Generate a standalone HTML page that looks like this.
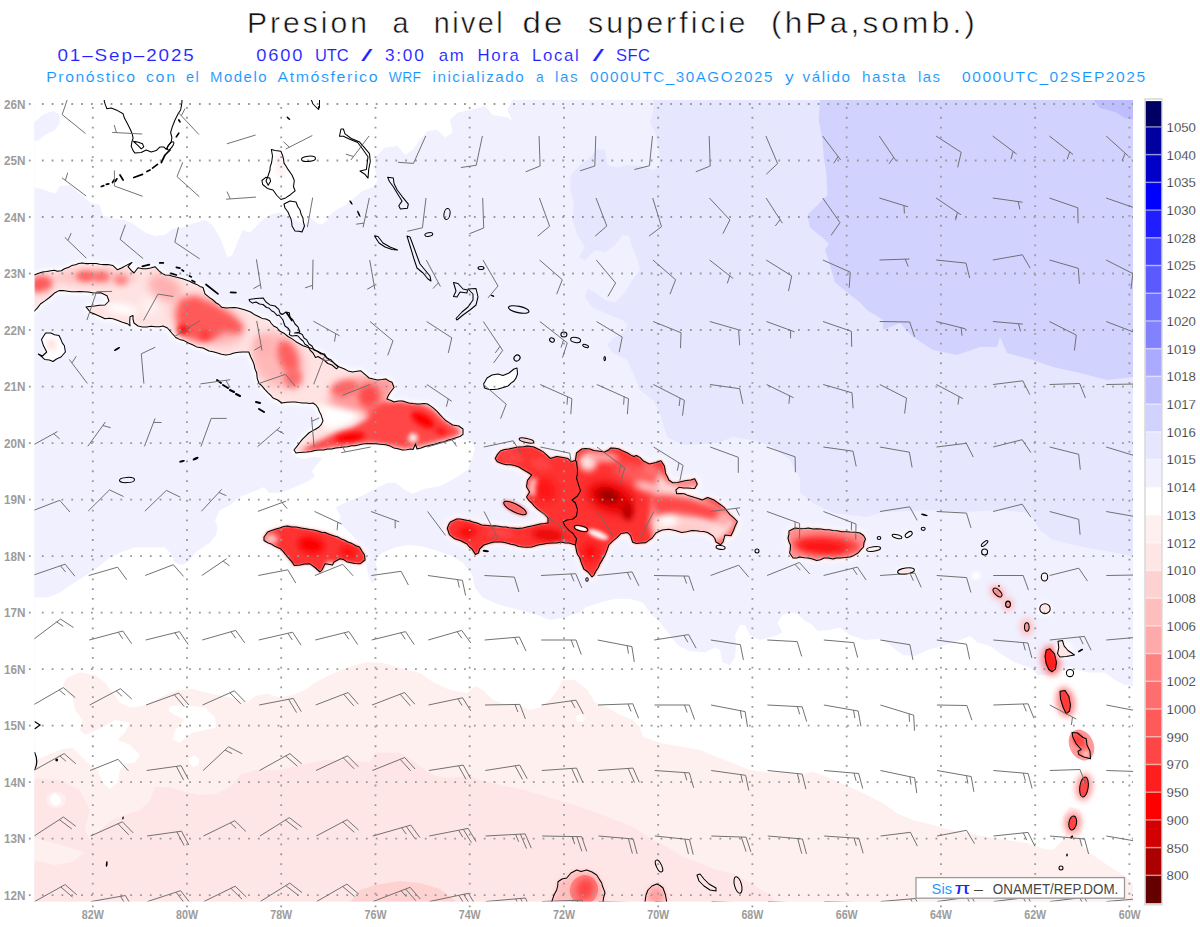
<!DOCTYPE html>
<html><head><meta charset="utf-8"><title>Presion a nivel de superficie</title>
<style>html,body{margin:0;padding:0;background:#fff;}body{width:1200px;height:927px;overflow:hidden;font-family:"Liberation Sans",sans-serif;}svg{display:block}text{font-family:"Liberation Sans",sans-serif;}</style></head><body>
<svg width="1200" height="927" viewBox="0 0 1200 927">
<defs>
<clipPath id="mapclip"><rect x="34.4" y="100.0" width="1098.6" height="801.4"/></clipPath>
<filter id="b0_6" x="-50%" y="-50%" width="200%" height="200%"><feGaussianBlur stdDeviation="0.6"/></filter>
<filter id="b1" x="-50%" y="-50%" width="200%" height="200%"><feGaussianBlur stdDeviation="1"/></filter>
<filter id="b1_5" x="-50%" y="-50%" width="200%" height="200%"><feGaussianBlur stdDeviation="1.5"/></filter>
<filter id="b2" x="-50%" y="-50%" width="200%" height="200%"><feGaussianBlur stdDeviation="2"/></filter>
<filter id="b2_5" x="-50%" y="-50%" width="200%" height="200%"><feGaussianBlur stdDeviation="2.5"/></filter>
<filter id="b3" x="-50%" y="-50%" width="200%" height="200%"><feGaussianBlur stdDeviation="3"/></filter>
<filter id="b4" x="-50%" y="-50%" width="200%" height="200%"><feGaussianBlur stdDeviation="4"/></filter>
<filter id="b5" x="-50%" y="-50%" width="200%" height="200%"><feGaussianBlur stdDeviation="5"/></filter>
<filter id="b6" x="-50%" y="-50%" width="200%" height="200%"><feGaussianBlur stdDeviation="6"/></filter>
</defs>
<rect x="0" y="0" width="1200" height="927" fill="#fff"/>
<g clip-path="url(#mapclip)">
<rect x="33.4" y="99.0" width="1100.6" height="803.4" fill="#f0f0ff"/>
<g filter="url(#b0_6)">
<polygon points="34.0,99.0 34.0,187.5 45.0,190.0 55.0,193.8 60.0,186.0 70.0,185.0 80.0,193.8 90.0,202.5 100.0,205.0 102.5,215.0 112.5,218.8 125.0,220.0 135.0,225.0 145.0,232.5 155.0,236.0 165.0,235.0 172.5,228.8 182.5,227.5 192.5,223.8 205.0,220.0 212.5,225.0 220.0,237.5 227.5,257.5 232.5,255.0 237.5,242.5 242.5,230.0 250.0,232.5 257.5,225.0 262.5,220.0 270.0,215.0 280.0,212.5 290.0,217.5 300.0,222.0 305.0,225.0 310.0,217.5 320.0,225.0 325.0,222.5 332.5,212.5 345.0,205.0 355.0,197.5 362.5,191.0 372.5,187.5 377.5,181.0 375.0,170.0 375.0,157.5 385.0,147.5 397.5,146.0 405.0,155.0 412.5,150.0 420.0,140.0 427.5,131.0 437.5,130.0 445.0,137.5 452.5,132.5 450.0,120.0 457.5,112.5 470.0,110.0 485.0,106.0 492.5,115.0 507.5,117.5 512.5,121.0 507.5,110.0 512.5,99.0" fill="#fff"/>
<polygon points="34.0,122.5 42.5,115.0 52.5,111.0 58.8,113.8 60.0,122.5 55.0,130.0 45.0,135.0 37.5,141.0 34.0,140.0" fill="#f0f0ff"/>
<polygon points="653.8,99.0 652.5,115.0 650.0,122.5 656.0,135.0 658.8,152.5 660.0,167.5 652.5,170.0 642.5,166.0 627.5,165.0 617.5,167.5 607.5,165.0 605.0,150.0 597.5,148.8 590.0,157.5 580.0,165.0 571.0,175.0 570.0,187.5 573.8,202.5 572.5,220.0 577.5,235.0 585.0,247.5 578.8,257.5 585.0,260.0 595.0,250.0 605.0,252.5 615.0,245.0 622.5,235.0 628.8,236.0 632.5,247.5 637.5,260.0 640.0,270.0 632.5,280.0 625.0,292.5 615.0,302.5 605.0,300.0 595.0,292.5 587.5,288.8 585.0,297.5 592.5,307.5 610.0,315.0 622.5,320.0 627.5,325.0 623.0,333.0 613.0,338.0 607.0,345.0 613.0,353.0 627.0,360.0 633.0,373.0 640.0,390.0 653.0,400.0 660.0,413.0 667.0,437.0 683.0,445.0 717.0,443.0 733.0,437.0 753.0,440.0 773.0,447.0 790.0,460.0 800.0,478.0 800.0,492.0 813.0,503.0 833.0,513.0 867.0,517.0 883.0,512.0 933.0,510.0 967.0,512.0 1000.0,510.0 1030.0,513.0 1040.0,530.0 1053.0,540.0 1083.0,547.0 1117.0,553.0 1134.0,557.0 1134.0,99.0" fill="#e6e6ff"/>
<polygon points="820.0,99.0 818.8,120.0 822.5,140.0 823.8,157.5 826.2,172.5 827.5,195.0 820.0,202.5 807.5,215.0 810.0,227.5 822.5,237.5 828.8,243.8 825.0,250.0 830.0,265.0 835.0,282.5 847.5,292.5 860.0,302.5 867.0,310.0 883.0,320.0 883.0,330.0 900.0,323.0 913.0,337.0 933.0,350.0 957.0,355.0 980.0,347.0 997.0,347.0 1000.0,337.0 1007.0,353.0 1033.0,360.0 1053.0,367.0 1080.0,373.0 1107.0,380.0 1134.0,377.0 1134.0,99.0" fill="#d2d2ff"/>
<polygon points="1093.0,99.0 1100.0,108.0 1115.0,112.0 1125.0,118.0 1134.0,120.0 1134.0,99.0" fill="#bebeff"/>
<polygon points="34.0,597.5 47.5,597.5 60.0,592.5 72.5,583.8 85.0,576.0 97.5,567.5 110.0,557.5 120.0,552.5 135.0,547.5 150.0,547.5 165.0,547.5 170.0,552.5 175.0,562.5 182.5,565.0 190.0,560.0 195.0,552.5 202.5,547.5 210.0,542.5 216.0,535.0 217.5,527.5 215.0,520.0 220.0,510.0 230.0,505.0 240.0,497.0 250.7,492.7 264.0,487.0 269.0,492.7 280.0,492.7 290.7,488.7 300.0,484.7 309.0,480.7 314.7,476.7 312.0,471.0 317.0,464.7 322.7,458.0 314.7,456.7 304.0,459.0 296.0,456.7 292.0,452.0 300.0,440.0 340.0,436.0 400.0,440.0 440.0,438.0 470.0,440.0 475.0,447.5 472.5,457.5 467.5,470.0 460.0,475.0 450.0,481.0 440.0,486.0 425.0,488.8 412.5,493.8 405.0,490.0 395.0,482.5 386.7,483.0 373.0,490.0 360.0,496.7 346.7,502.0 336.0,507.3 338.7,512.7 341.0,516.7 338.7,520.7 345.0,528.0 352.0,535.0 360.0,545.0 365.0,557.0 366.0,565.0 369.0,577.0 372.5,584.0 377.0,576.0 377.5,570.0 375.0,560.0 382.5,552.5 395.0,547.5 407.5,545.0 420.0,546.0 435.0,550.0 450.0,555.0 462.5,562.5 472.5,575.0 475.0,587.5 482.5,597.5 500.0,605.0 520.0,610.0 537.5,615.0 550.0,620.0 565.0,617.5 580.0,612.5 585.0,607.5 600.0,602.5 615.0,598.8 630.0,598.8 642.5,602.5 650.0,612.5 660.0,622.5 670.0,635.0 677.5,645.0 690.0,651.0 705.0,652.5 715.0,647.5 720.0,650.0 722.5,662.5 730.0,665.0 735.0,657.5 736.0,645.0 735.0,635.0 740.0,625.0 745.0,625.0 750.0,635.0 760.0,640.0 775.0,636.0 782.5,632.5 777.5,622.5 782.5,615.0 790.0,612.5 797.5,613.8 803.8,620.0 812.5,625.0 817.5,631.0 830.0,630.0 840.0,627.5 850.0,635.0 865.0,640.0 880.0,638.8 890.0,645.0 902.5,655.0 915.0,656.0 927.5,650.0 945.0,645.0 960.0,640.0 970.0,636.0 977.5,642.5 990.0,646.0 1002.5,655.0 1015.0,662.5 1030.0,667.5 1037.5,675.0 1050.0,675.0 1065.0,670.0 1077.5,670.0 1090.0,672.5 1105.0,672.5 1115.0,680.0 1125.0,685.0 1134.0,686.0 1134.0,903.0 34.0,903.0" fill="#fff"/>
<polygon points="34.0,761.0 45.0,756.0 60.0,750.0 72.5,747.5 82.5,757.5 90.0,765.0 97.5,770.0 102.5,782.5 110.0,788.8 117.5,782.5 120.0,770.0 125.0,763.8 135.0,762.5 140.0,755.0 130.0,745.0 117.5,740.0 125.0,732.5 130.0,722.5 115.0,720.0 102.5,727.5 85.0,735.0 80.0,730.0 82.5,720.0 75.0,710.0 72.5,697.5 62.5,685.0 67.5,677.5 80.0,672.5 95.0,675.0 105.0,682.5 112.5,692.5 120.0,702.5 130.0,707.5 142.5,706.0 155.0,700.0 170.0,692.5 180.0,690.0 192.5,688.8 205.0,692.5 217.5,695.0 230.0,697.5 247.5,702.5 255.0,696.0 267.5,693.8 280.0,697.5 292.5,695.0 305.0,690.0 315.0,682.5 330.0,675.0 342.5,669.0 367.0,662.0 383.0,663.0 400.0,668.0 420.0,673.0 433.0,682.0 450.0,690.0 467.0,693.0 475.0,686.0 483.0,690.0 493.0,700.0 507.5,705.0 520.0,705.0 530.0,710.0 540.0,707.5 550.0,700.0 557.5,690.0 562.5,680.0 575.0,680.0 587.5,690.0 595.0,702.5 607.5,707.5 620.0,715.0 633.0,720.0 640.0,727.0 643.0,737.0 660.0,743.0 683.0,747.0 700.0,750.0 717.0,757.0 733.0,763.0 750.0,770.0 767.0,772.0 783.0,773.0 800.0,775.0 813.0,771.7 826.7,776.7 840.0,783.0 856.7,790.0 870.0,796.7 883.0,803.0 896.7,813.0 913.0,820.0 933.0,825.0 950.0,830.0 966.7,833.0 986.7,836.7 1006.7,840.0 1026.7,843.0 1040.0,848.0 1053.0,850.0 1063.0,840.0 1066.7,830.0 1063.0,816.7 1070.0,806.7 1080.0,810.0 1083.0,823.0 1080.0,836.7 1083.0,846.7 1090.0,853.0 1100.0,860.0 1110.0,866.7 1120.0,873.0 1130.0,880.0 1134.0,886.7 1134.0,903.0 34.0,903.0" fill="#fff0f0"/>
<polygon points="34.0,778.0 60.0,780.0 80.0,790.0 90.0,810.0 85.0,830.0 90.0,840.0 100.0,830.0 112.0,820.0 125.0,815.0 140.0,810.0 150.0,800.0 155.0,787.0 170.0,787.0 185.0,792.0 200.0,795.0 215.0,794.0 230.0,787.0 240.0,775.0 255.0,770.0 280.0,770.0 305.0,764.0 325.0,760.0 350.0,760.0 370.0,762.5 375.0,752.5 400.0,752.5 412.5,760.0 425.0,770.0 435.0,776.0 450.0,777.5 470.0,776.0 480.0,780.0 500.0,785.0 525.0,790.0 550.0,797.5 575.0,805.0 600.0,814.0 633.0,826.7 653.0,840.0 667.0,846.7 683.0,856.7 700.0,863.0 717.0,870.0 733.0,873.0 750.0,883.0 767.0,893.0 777.0,902.0 34.0,903.0" fill="#ffe6e6"/>
<polygon points="34.0,838.0 60.0,845.0 85.0,852.0 72.0,862.0 55.0,865.0 34.0,860.0" fill="#fff0f0"/>
<ellipse cx="56" cy="800" rx="10" ry="8" fill="#fff0f0"/>
<polygon points="170.0,706.0 185.0,705.0 205.0,707.5 215.0,717.5 216.0,727.5 205.0,730.0 192.5,732.5 180.0,742.5 172.5,740.0 175.0,730.0 185.0,720.0 175.0,715.0 168.8,711.0" fill="#fff"/>
<polygon points="50.0,797.0 55.0,793.0 60.0,797.0 61.0,803.0 56.0,806.0 51.0,803.0" fill="#fff"/>
<polygon points="189.0,758.0 194.0,755.0 199.0,759.0 199.0,764.0 194.0,767.0 189.0,764.0" fill="#fff"/>
<polygon points="576.0,716.0 581.0,714.0 585.0,718.0 583.0,722.0 577.0,721.0" fill="#fff"/>
<polygon points="350.0,902.0 360.0,890.0 375.0,885.0 400.0,881.0 420.0,883.0 440.0,889.0 457.0,902.0" fill="#ffd2d2"/>
</g>
<defs><clipPath id="cp_cuba"><polygon points="34.0,275.0 42.5,271.9 50.8,270.8 61.3,270.8 71.7,265.6 82.0,263.0 92.5,263.5 103.0,264.6 113.0,265.6 117.5,269.8 125.8,265.6 132.0,262.5 128.0,266.7 134.0,273.0 138.0,267.7 146.7,268.8 155.0,266.7 159.0,270.8 165.4,275.0 175.8,277.0 186.0,280.0 196.7,284.4 203.0,287.5 205.0,293.8 213.0,300.0 221.7,307.3 238.0,308.0 246.7,310.4 259.0,316.7 269.6,320.8 271.0,323.0 279.6,331.0 288.0,336.5 296.0,341.7 306.7,347.0 317.0,351.0 323.0,354.0 329.6,360.4 335.8,364.6 344.0,368.8 352.5,371.9 360.8,370.8 369.0,378.0 377.5,380.0 385.8,379.0 392.0,382.3 394.0,387.5 390.0,392.7 386.9,399.0 394.0,402.0 402.5,401.0 408.8,403.0 417.0,404.0 427.5,404.0 433.8,408.3 440.0,414.6 446.0,420.8 452.5,425.0 458.8,426.0 463.0,429.0 463.0,434.4 456.7,437.5 444.0,441.7 431.7,444.8 421.0,448.0 417.0,449.0 415.5,444.0 413.0,449.5 410.8,449.0 402.5,450.0 394.0,448.0 385.8,444.8 375.4,443.8 365.0,443.8 354.6,445.8 344.0,446.9 331.7,449.0 319.0,450.0 306.7,452.0 296.0,453.0 294.0,450.0 300.4,441.7 308.8,433.0 319.0,427.0 323.0,420.8 321.0,414.6 318.0,408.0 313.0,403.0 302.5,403.0 292.0,402.0 281.7,403.0 273.0,398.0 265.0,389.6 258.8,383.0 256.7,373.0 252.5,360.4 248.8,352.0 242.5,352.0 234.0,353.0 225.8,355.0 217.5,353.0 209.0,351.0 203.0,348.0 196.7,346.9 192.5,344.8 184.0,340.6 175.8,337.5 171.7,333.0 167.5,328.0 163.0,326.0 155.0,326.7 146.7,327.0 138.0,326.0 134.0,323.0 133.0,315.6 130.0,316.7 130.0,326.0 128.0,324.0 121.7,321.9 113.0,318.8 105.0,318.8 100.8,316.7 90.4,312.5 86.0,307.0 94.6,306.0 105.0,305.0 109.0,301.0 107.0,295.8 100.8,292.7 92.5,292.7 84.0,291.7 71.7,291.7 59.0,290.6 55.0,292.7 48.8,298.0 40.4,304.0 34.0,311.5"/></clipPath><clipPath id="cp_hisp"><polygon points="495.2,458.5 500.4,451.0 508.8,449.0 519.0,447.0 527.5,446.0 533.8,447.0 540.0,450.0 546.0,454.4 550.4,458.5 556.7,456.5 563.0,457.5 568.0,458.5 571.0,461.7 575.4,460.6 576.5,453.0 581.7,449.0 590.0,449.0 598.0,451.0 604.6,452.0 610.8,448.0 619.0,449.0 627.5,453.0 633.8,456.5 636.5,455.5 643.0,460.7 649.4,464.0 655.9,462.6 661.0,460.7 664.3,465.9 665.6,473.6 668.8,480.0 672.7,482.7 681.7,481.4 690.8,480.0 694.7,478.8 697.3,484.0 694.7,488.5 686.9,487.9 679.2,487.2 675.9,489.8 676.6,493.7 684.3,493.7 688.2,495.6 694.7,497.6 702.4,500.0 707.6,497.6 714.0,500.0 720.6,504.7 727.0,511.0 733.5,517.6 737.4,521.5 733.5,530.5 731.0,535.7 725.0,535.0 723.0,542.0 720.5,544.8 716.0,542.0 712.8,535.7 707.6,532.5 699.9,531.2 692.0,530.6 681.7,532.5 675.3,530.6 668.8,529.3 662.3,530.0 655.9,533.0 652.0,538.3 645.5,542.8 636.5,543.5 632.6,542.2 630.6,535.6 627.5,532.5 621.0,533.5 617.0,537.7 613.0,540.8 608.8,545.0 606.7,551.0 602.5,559.6 598.0,568.0 594.0,575.0 592.0,577.0 588.0,572.0 583.8,569.0 581.7,563.8 579.6,557.5 576.5,551.0 575.4,545.0 569.0,543.0 560.8,541.9 552.5,543.0 544.0,544.0 538.0,545.0 531.7,547.0 523.0,547.0 515.0,545.0 506.7,543.0 498.0,541.9 490.0,543.0 483.8,545.0 479.6,549.0 478.5,553.0 475.4,554.4 472.0,549.0 467.0,544.0 460.8,540.8 454.6,538.8 449.4,534.6 447.3,528.3 450.4,522.0 456.7,519.0 465.0,520.0 473.0,522.0 481.7,525.0 492.0,526.0 502.5,527.0 513.0,528.0 523.0,528.0 531.7,526.0 540.0,524.0 548.0,523.0 548.0,518.0 544.0,513.8 538.0,509.6 531.7,503.0 526.5,497.0 529.6,492.0 526.5,486.7 527.5,480.4 531.7,475.0 525.4,471.0 519.0,467.0 510.8,464.8 502.5,463.8 497.3,461.7"/></clipPath><clipPath id="cp_jam"><polygon points="264.0,537.0 267.6,532.0 276.0,529.0 287.5,526.0 301.0,528.0 317.7,531.0 325.0,532.5 334.4,536.0 347.8,542.0 359.5,547.0 364.5,555.0 365.0,560.0 360.0,563.8 350.0,562.5 340.0,558.8 334.0,562.0 332.5,565.0 327.0,564.0 325.0,563.8 322.0,570.0 320.0,572.0 315.0,567.5 310.0,563.8 300.0,565.0 294.3,565.6 287.6,557.0 281.0,549.0 271.0,543.9 264.0,540.5"/></clipPath><clipPath id="cp_pr"><polygon points="789.0,531.0 795.0,528.0 805.0,528.5 816.7,528.8 833.0,530.5 850.0,532.0 860.0,533.0 863.5,535.5 865.5,539.0 863.5,547.0 858.0,553.0 850.0,557.0 840.0,558.0 833.0,559.0 824.0,558.0 816.7,560.6 808.0,558.0 800.0,557.0 793.0,558.0 789.6,553.0 790.5,545.0 788.0,538.0"/></clipPath></defs>
<polygon points="34.0,275.0 42.5,271.9 50.8,270.8 61.3,270.8 71.7,265.6 82.0,263.0 92.5,263.5 103.0,264.6 113.0,265.6 117.5,269.8 125.8,265.6 132.0,262.5 128.0,266.7 134.0,273.0 138.0,267.7 146.7,268.8 155.0,266.7 159.0,270.8 165.4,275.0 175.8,277.0 186.0,280.0 196.7,284.4 203.0,287.5 205.0,293.8 213.0,300.0 221.7,307.3 238.0,308.0 246.7,310.4 259.0,316.7 269.6,320.8 271.0,323.0 279.6,331.0 288.0,336.5 296.0,341.7 306.7,347.0 317.0,351.0 323.0,354.0 329.6,360.4 335.8,364.6 344.0,368.8 352.5,371.9 360.8,370.8 369.0,378.0 377.5,380.0 385.8,379.0 392.0,382.3 394.0,387.5 390.0,392.7 386.9,399.0 394.0,402.0 402.5,401.0 408.8,403.0 417.0,404.0 427.5,404.0 433.8,408.3 440.0,414.6 446.0,420.8 452.5,425.0 458.8,426.0 463.0,429.0 463.0,434.4 456.7,437.5 444.0,441.7 431.7,444.8 421.0,448.0 417.0,449.0 415.5,444.0 413.0,449.5 410.8,449.0 402.5,450.0 394.0,448.0 385.8,444.8 375.4,443.8 365.0,443.8 354.6,445.8 344.0,446.9 331.7,449.0 319.0,450.0 306.7,452.0 296.0,453.0 294.0,450.0 300.4,441.7 308.8,433.0 319.0,427.0 323.0,420.8 321.0,414.6 318.0,408.0 313.0,403.0 302.5,403.0 292.0,402.0 281.7,403.0 273.0,398.0 265.0,389.6 258.8,383.0 256.7,373.0 252.5,360.4 248.8,352.0 242.5,352.0 234.0,353.0 225.8,355.0 217.5,353.0 209.0,351.0 203.0,348.0 196.7,346.9 192.5,344.8 184.0,340.6 175.8,337.5 171.7,333.0 167.5,328.0 163.0,326.0 155.0,326.7 146.7,327.0 138.0,326.0 134.0,323.0 133.0,315.6 130.0,316.7 130.0,326.0 128.0,324.0 121.7,321.9 113.0,318.8 105.0,318.8 100.8,316.7 90.4,312.5 86.0,307.0 94.6,306.0 105.0,305.0 109.0,301.0 107.0,295.8 100.8,292.7 92.5,292.7 84.0,291.7 71.7,291.7 59.0,290.6 55.0,292.7 48.8,298.0 40.4,304.0 34.0,311.5" fill="#fff" stroke="#fff" stroke-width="5" stroke-linejoin="round" filter="url(#b2_5)"/>
<g filter="url(#b1)"><g clip-path="url(#cp_cuba)">
<polygon points="34.0,275.0 42.5,271.9 50.8,270.8 61.3,270.8 71.7,265.6 82.0,263.0 92.5,263.5 103.0,264.6 113.0,265.6 117.5,269.8 125.8,265.6 132.0,262.5 128.0,266.7 134.0,273.0 138.0,267.7 146.7,268.8 155.0,266.7 159.0,270.8 165.4,275.0 175.8,277.0 186.0,280.0 196.7,284.4 203.0,287.5 205.0,293.8 213.0,300.0 221.7,307.3 238.0,308.0 246.7,310.4 259.0,316.7 269.6,320.8 271.0,323.0 279.6,331.0 288.0,336.5 296.0,341.7 306.7,347.0 317.0,351.0 323.0,354.0 329.6,360.4 335.8,364.6 344.0,368.8 352.5,371.9 360.8,370.8 369.0,378.0 377.5,380.0 385.8,379.0 392.0,382.3 394.0,387.5 390.0,392.7 386.9,399.0 394.0,402.0 402.5,401.0 408.8,403.0 417.0,404.0 427.5,404.0 433.8,408.3 440.0,414.6 446.0,420.8 452.5,425.0 458.8,426.0 463.0,429.0 463.0,434.4 456.7,437.5 444.0,441.7 431.7,444.8 421.0,448.0 417.0,449.0 415.5,444.0 413.0,449.5 410.8,449.0 402.5,450.0 394.0,448.0 385.8,444.8 375.4,443.8 365.0,443.8 354.6,445.8 344.0,446.9 331.7,449.0 319.0,450.0 306.7,452.0 296.0,453.0 294.0,450.0 300.4,441.7 308.8,433.0 319.0,427.0 323.0,420.8 321.0,414.6 318.0,408.0 313.0,403.0 302.5,403.0 292.0,402.0 281.7,403.0 273.0,398.0 265.0,389.6 258.8,383.0 256.7,373.0 252.5,360.4 248.8,352.0 242.5,352.0 234.0,353.0 225.8,355.0 217.5,353.0 209.0,351.0 203.0,348.0 196.7,346.9 192.5,344.8 184.0,340.6 175.8,337.5 171.7,333.0 167.5,328.0 163.0,326.0 155.0,326.7 146.7,327.0 138.0,326.0 134.0,323.0 133.0,315.6 130.0,316.7 130.0,326.0 128.0,324.0 121.7,321.9 113.0,318.8 105.0,318.8 100.8,316.7 90.4,312.5 86.0,307.0 94.6,306.0 105.0,305.0 109.0,301.0 107.0,295.8 100.8,292.7 92.5,292.7 84.0,291.7 71.7,291.7 59.0,290.6 55.0,292.7 48.8,298.0 40.4,304.0 34.0,311.5" fill="#ffe2e2"/>
<ellipse cx="95.0" cy="277.0" rx="42.0" ry="8.0" transform="rotate(0 95.0 277.0)" fill="#ffc4c4" filter="url(#b3)"/>
<ellipse cx="40.0" cy="284.0" rx="13.0" ry="8.5" transform="rotate(-10 40.0 284.0)" fill="#ff5a5a" filter="url(#b3)"/>
<ellipse cx="86.0" cy="276.0" rx="10.0" ry="5.5" transform="rotate(0 86.0 276.0)" fill="#ff6464" filter="url(#b2_5)"/>
<ellipse cx="101.0" cy="276.5" rx="8.5" ry="5.5" transform="rotate(0 101.0 276.5)" fill="#ff7070" filter="url(#b2_5)"/>
<ellipse cx="121.0" cy="280.0" rx="7.0" ry="5.5" transform="rotate(10 121.0 280.0)" fill="#ff8888" filter="url(#b2_5)"/>
<ellipse cx="122.0" cy="309.0" rx="16.0" ry="5.0" transform="rotate(8 122.0 309.0)" fill="#ffffff" filter="url(#b3)"/>
<ellipse cx="150.0" cy="305.0" rx="10.0" ry="10.0" transform="rotate(0 150.0 305.0)" fill="#fff0f0" filter="url(#b4)"/>
<ellipse cx="165.0" cy="288.0" rx="18.0" ry="12.0" transform="rotate(30 165.0 288.0)" fill="#ffb0b0" filter="url(#b4)"/>
<ellipse cx="207.0" cy="320.0" rx="38.0" ry="22.0" transform="rotate(25 207.0 320.0)" fill="#ffb4b4" filter="url(#b5)"/>
<polygon points="180.0,300.0 195.0,296.0 215.0,305.0 232.0,315.0 244.0,326.0 240.0,334.0 224.0,332.0 213.0,340.0 200.0,342.0 186.0,338.0 178.0,331.0 176.0,315.0" fill="#ff5a5a" filter="url(#b3)"/>
<ellipse cx="183.0" cy="330.0" rx="5.5" ry="5.0" transform="rotate(0 183.0 330.0)" fill="#ff0a0a" filter="url(#b2)"/>
<ellipse cx="205.0" cy="335.0" rx="6.0" ry="5.5" transform="rotate(0 205.0 335.0)" fill="#ff4040" filter="url(#b2)"/>
<ellipse cx="278.0" cy="360.0" rx="24.0" ry="30.0" transform="rotate(-35 278.0 360.0)" fill="#ffb8b8" filter="url(#b5)"/>
<ellipse cx="288.0" cy="357.0" rx="9.5" ry="17.0" transform="rotate(-20 288.0 357.0)" fill="#ff6060" filter="url(#b3)"/>
<ellipse cx="293.0" cy="378.0" rx="9.0" ry="10.0" transform="rotate(0 293.0 378.0)" fill="#ff6a6a" filter="url(#b3)"/>
<ellipse cx="263.0" cy="346.0" rx="8.0" ry="11.0" transform="rotate(-20 263.0 346.0)" fill="#ffb0b0" filter="url(#b3)"/>
<ellipse cx="362.0" cy="396.0" rx="38.0" ry="18.0" transform="rotate(-25 362.0 396.0)" fill="#ff9c9c" filter="url(#b5)"/>
<ellipse cx="344.0" cy="388.0" rx="14.0" ry="8.0" transform="rotate(-15 344.0 388.0)" fill="#ff6464" filter="url(#b3)"/>
<ellipse cx="369.0" cy="396.0" rx="11.0" ry="12.0" transform="rotate(0 369.0 396.0)" fill="#ff4c4c" filter="url(#b3)"/>
<ellipse cx="376.0" cy="411.0" rx="10.0" ry="8.0" transform="rotate(0 376.0 411.0)" fill="#ff6060" filter="url(#b3)"/>
<polygon points="300.0,451.0 310.0,445.0 325.0,438.0 340.0,430.0 352.0,427.0 365.0,420.0 375.0,410.0 382.0,402.0 400.0,401.0 420.0,403.0 432.0,408.0 445.0,420.0 458.0,428.0 461.0,433.0 455.0,437.0 440.0,441.0 425.0,445.0 405.0,449.0 390.0,446.0 370.0,443.0 350.0,445.0 330.0,448.0 310.0,452.0" fill="#ff4646" filter="url(#b2_5)"/>
<ellipse cx="350.0" cy="437.5" rx="15.0" ry="5.0" transform="rotate(-8 350.0 437.5)" fill="#ff0000" filter="url(#b2_5)"/>
<ellipse cx="423.0" cy="420.0" rx="13.0" ry="6.0" transform="rotate(30 423.0 420.0)" fill="#ff0000" filter="url(#b2_5)"/>
<ellipse cx="441.0" cy="431.0" rx="6.0" ry="4.0" transform="rotate(20 441.0 431.0)" fill="#ff1414" filter="url(#b2)"/>
<ellipse cx="413.0" cy="438.0" rx="4.5" ry="4.5" transform="rotate(0 413.0 438.0)" fill="#ffffff" filter="url(#b2)"/>
<polygon points="316.0,404.0 335.0,406.0 350.0,410.0 362.0,414.0 355.0,422.0 340.0,428.0 325.0,429.0 322.0,418.0" fill="#ffffff" filter="url(#b3)"/>
</g></g>
<polygon points="45.6,333.0 50.8,333.0 59.0,335.4 61.0,339.6 64.4,345.8 65.4,352.0 61.0,357.0 53.0,361.5 44.6,359.4 38.3,354.0 42.5,356.0 46.7,352.0 43.5,345.8 41.5,339.6" fill="#ffffff" filter="url(#b1)"/>
<ellipse cx="52.0" cy="345.0" rx="6.0" ry="7.0" transform="rotate(0 52.0 345.0)" fill="#fff0f0" filter="url(#b2)"/>
<ellipse cx="51.0" cy="344.0" rx="3.0" ry="3.0" transform="rotate(0 51.0 344.0)" fill="#ffdcdc" filter="url(#b2)"/>
<ellipse cx="280.0" cy="165.0" rx="5.0" ry="12.0" transform="rotate(-10 280.0 165.0)" fill="#fff0f0" filter="url(#b2)"/>
<polygon points="495.2,458.5 500.4,451.0 508.8,449.0 519.0,447.0 527.5,446.0 533.8,447.0 540.0,450.0 546.0,454.4 550.4,458.5 556.7,456.5 563.0,457.5 568.0,458.5 571.0,461.7 575.4,460.6 576.5,453.0 581.7,449.0 590.0,449.0 598.0,451.0 604.6,452.0 610.8,448.0 619.0,449.0 627.5,453.0 633.8,456.5 636.5,455.5 643.0,460.7 649.4,464.0 655.9,462.6 661.0,460.7 664.3,465.9 665.6,473.6 668.8,480.0 672.7,482.7 681.7,481.4 690.8,480.0 694.7,478.8 697.3,484.0 694.7,488.5 686.9,487.9 679.2,487.2 675.9,489.8 676.6,493.7 684.3,493.7 688.2,495.6 694.7,497.6 702.4,500.0 707.6,497.6 714.0,500.0 720.6,504.7 727.0,511.0 733.5,517.6 737.4,521.5 733.5,530.5 731.0,535.7 725.0,535.0 723.0,542.0 720.5,544.8 716.0,542.0 712.8,535.7 707.6,532.5 699.9,531.2 692.0,530.6 681.7,532.5 675.3,530.6 668.8,529.3 662.3,530.0 655.9,533.0 652.0,538.3 645.5,542.8 636.5,543.5 632.6,542.2 630.6,535.6 627.5,532.5 621.0,533.5 617.0,537.7 613.0,540.8 608.8,545.0 606.7,551.0 602.5,559.6 598.0,568.0 594.0,575.0 592.0,577.0 588.0,572.0 583.8,569.0 581.7,563.8 579.6,557.5 576.5,551.0 575.4,545.0 569.0,543.0 560.8,541.9 552.5,543.0 544.0,544.0 538.0,545.0 531.7,547.0 523.0,547.0 515.0,545.0 506.7,543.0 498.0,541.9 490.0,543.0 483.8,545.0 479.6,549.0 478.5,553.0 475.4,554.4 472.0,549.0 467.0,544.0 460.8,540.8 454.6,538.8 449.4,534.6 447.3,528.3 450.4,522.0 456.7,519.0 465.0,520.0 473.0,522.0 481.7,525.0 492.0,526.0 502.5,527.0 513.0,528.0 523.0,528.0 531.7,526.0 540.0,524.0 548.0,523.0 548.0,518.0 544.0,513.8 538.0,509.6 531.7,503.0 526.5,497.0 529.6,492.0 526.5,486.7 527.5,480.4 531.7,475.0 525.4,471.0 519.0,467.0 510.8,464.8 502.5,463.8 497.3,461.7" fill="#fff" stroke="#fff" stroke-width="7" stroke-linejoin="round" filter="url(#b2_5)"/>
<polygon points="495.2,458.5 500.4,451.0 508.8,449.0 519.0,447.0 527.5,446.0 533.8,447.0 540.0,450.0 546.0,454.4 550.4,458.5 556.7,456.5 563.0,457.5 568.0,458.5 571.0,461.7 575.4,460.6 576.5,453.0 581.7,449.0 590.0,449.0 598.0,451.0 604.6,452.0 610.8,448.0 619.0,449.0 627.5,453.0 633.8,456.5 636.5,455.5 643.0,460.7 649.4,464.0 655.9,462.6 661.0,460.7 664.3,465.9 665.6,473.6 668.8,480.0 672.7,482.7 681.7,481.4 690.8,480.0 694.7,478.8 697.3,484.0 694.7,488.5 686.9,487.9 679.2,487.2 675.9,489.8 676.6,493.7 684.3,493.7 688.2,495.6 694.7,497.6 702.4,500.0 707.6,497.6 714.0,500.0 720.6,504.7 727.0,511.0 733.5,517.6 737.4,521.5 733.5,530.5 731.0,535.7 725.0,535.0 723.0,542.0 720.5,544.8 716.0,542.0 712.8,535.7 707.6,532.5 699.9,531.2 692.0,530.6 681.7,532.5 675.3,530.6 668.8,529.3 662.3,530.0 655.9,533.0 652.0,538.3 645.5,542.8 636.5,543.5 632.6,542.2 630.6,535.6 627.5,532.5 621.0,533.5 617.0,537.7 613.0,540.8 608.8,545.0 606.7,551.0 602.5,559.6 598.0,568.0 594.0,575.0 592.0,577.0 588.0,572.0 583.8,569.0 581.7,563.8 579.6,557.5 576.5,551.0 575.4,545.0 569.0,543.0 560.8,541.9 552.5,543.0 544.0,544.0 538.0,545.0 531.7,547.0 523.0,547.0 515.0,545.0 506.7,543.0 498.0,541.9 490.0,543.0 483.8,545.0 479.6,549.0 478.5,553.0 475.4,554.4 472.0,549.0 467.0,544.0 460.8,540.8 454.6,538.8 449.4,534.6 447.3,528.3 450.4,522.0 456.7,519.0 465.0,520.0 473.0,522.0 481.7,525.0 492.0,526.0 502.5,527.0 513.0,528.0 523.0,528.0 531.7,526.0 540.0,524.0 548.0,523.0 548.0,518.0 544.0,513.8 538.0,509.6 531.7,503.0 526.5,497.0 529.6,492.0 526.5,486.7 527.5,480.4 531.7,475.0 525.4,471.0 519.0,467.0 510.8,464.8 502.5,463.8 497.3,461.7" fill="#ffb4b4" filter="url(#b2)"/>
<g filter="url(#b1)"><g clip-path="url(#cp_hisp)">
<polygon points="495.2,458.5 500.4,451.0 508.8,449.0 519.0,447.0 527.5,446.0 533.8,447.0 540.0,450.0 546.0,454.4 550.4,458.5 556.7,456.5 563.0,457.5 568.0,458.5 571.0,461.7 575.4,460.6 576.5,453.0 581.7,449.0 590.0,449.0 598.0,451.0 604.6,452.0 610.8,448.0 619.0,449.0 627.5,453.0 633.8,456.5 636.5,455.5 643.0,460.7 649.4,464.0 655.9,462.6 661.0,460.7 664.3,465.9 665.6,473.6 668.8,480.0 672.7,482.7 681.7,481.4 690.8,480.0 694.7,478.8 697.3,484.0 694.7,488.5 686.9,487.9 679.2,487.2 675.9,489.8 676.6,493.7 684.3,493.7 688.2,495.6 694.7,497.6 702.4,500.0 707.6,497.6 714.0,500.0 720.6,504.7 727.0,511.0 733.5,517.6 737.4,521.5 733.5,530.5 731.0,535.7 725.0,535.0 723.0,542.0 720.5,544.8 716.0,542.0 712.8,535.7 707.6,532.5 699.9,531.2 692.0,530.6 681.7,532.5 675.3,530.6 668.8,529.3 662.3,530.0 655.9,533.0 652.0,538.3 645.5,542.8 636.5,543.5 632.6,542.2 630.6,535.6 627.5,532.5 621.0,533.5 617.0,537.7 613.0,540.8 608.8,545.0 606.7,551.0 602.5,559.6 598.0,568.0 594.0,575.0 592.0,577.0 588.0,572.0 583.8,569.0 581.7,563.8 579.6,557.5 576.5,551.0 575.4,545.0 569.0,543.0 560.8,541.9 552.5,543.0 544.0,544.0 538.0,545.0 531.7,547.0 523.0,547.0 515.0,545.0 506.7,543.0 498.0,541.9 490.0,543.0 483.8,545.0 479.6,549.0 478.5,553.0 475.4,554.4 472.0,549.0 467.0,544.0 460.8,540.8 454.6,538.8 449.4,534.6 447.3,528.3 450.4,522.0 456.7,519.0 465.0,520.0 473.0,522.0 481.7,525.0 492.0,526.0 502.5,527.0 513.0,528.0 523.0,528.0 531.7,526.0 540.0,524.0 548.0,523.0 548.0,518.0 544.0,513.8 538.0,509.6 531.7,503.0 526.5,497.0 529.6,492.0 526.5,486.7 527.5,480.4 531.7,475.0 525.4,471.0 519.0,467.0 510.8,464.8 502.5,463.8 497.3,461.7" fill="#ff3030"/>
<ellipse cx="634.0" cy="473.6" rx="22.0" ry="9.0" transform="rotate(20 634.0 473.6)" fill="#ff5a5a" filter="url(#b4)"/>
<ellipse cx="512.0" cy="457.0" rx="12.0" ry="5.0" transform="rotate(10 512.0 457.0)" fill="#ff4a4a" filter="url(#b3)"/>
<ellipse cx="541.0" cy="464.0" rx="11.0" ry="5.0" transform="rotate(15 541.0 464.0)" fill="#ff4646" filter="url(#b3)"/>
<ellipse cx="500.0" cy="533.0" rx="14.0" ry="4.0" transform="rotate(5 500.0 533.0)" fill="#ff4848" filter="url(#b3)"/>
<polygon points="657.0,468.0 668.0,482.0 680.0,484.0 697.0,482.0 700.0,497.0 718.0,508.0 737.0,522.0 726.0,537.0 714.0,544.0 700.0,533.0 670.0,536.0 655.0,541.0 650.0,524.0 653.0,503.0" fill="#ffdada" filter="url(#b3)"/>
<polygon points="648.0,493.0 670.0,495.0 690.0,498.0 705.0,503.0 718.0,508.0 726.0,516.0 714.0,521.0 695.0,517.0 675.0,514.0 655.0,516.0" fill="#ff4a4a" filter="url(#b3)"/>
<ellipse cx="724.0" cy="519.0" rx="7.0" ry="7.0" transform="rotate(0 724.0 519.0)" fill="#ffaaaa" filter="url(#b3)"/>
<ellipse cx="690.0" cy="528.0" rx="22.0" ry="5.0" transform="rotate(-5 690.0 528.0)" fill="#ffc8c8" filter="url(#b3)"/>
<ellipse cx="668.0" cy="521.0" rx="9.0" ry="5.0" transform="rotate(0 668.0 521.0)" fill="#ffffff" filter="url(#b3)"/>
<ellipse cx="686.0" cy="484.0" rx="10.0" ry="3.0" transform="rotate(-3 686.0 484.0)" fill="#ff8c8c" filter="url(#b2)"/>
<ellipse cx="700.0" cy="526.0" rx="10.0" ry="4.0" transform="rotate(20 700.0 526.0)" fill="#ffd0d0" filter="url(#b3)"/>
<ellipse cx="588.0" cy="462.0" rx="9.0" ry="9.0" transform="rotate(0 588.0 462.0)" fill="#ffe4e4" filter="url(#b3)"/>
<ellipse cx="603.0" cy="457.0" rx="16.0" ry="4.5" transform="rotate(5 603.0 457.0)" fill="#ffb4b4" filter="url(#b3)"/>
<ellipse cx="648.0" cy="487.0" rx="14.0" ry="5.0" transform="rotate(15 648.0 487.0)" fill="#ffc4c4" filter="url(#b3)"/>
<ellipse cx="650.0" cy="470.0" rx="10.0" ry="7.0" transform="rotate(40 650.0 470.0)" fill="#ff6e6e" filter="url(#b3)"/>
<ellipse cx="611.0" cy="498.0" rx="24.0" ry="14.0" transform="rotate(20 611.0 498.0)" fill="#e60000" filter="url(#b4)"/>
<ellipse cx="608.8" cy="496.0" rx="11.0" ry="6.5" transform="rotate(15 608.8 496.0)" fill="#a00000" filter="url(#b2_5)"/>
<ellipse cx="627.5" cy="511.7" rx="6.0" ry="9.0" transform="rotate(-5 627.5 511.7)" fill="#be0000" filter="url(#b2_5)"/>
<ellipse cx="598.0" cy="534.5" rx="11.0" ry="3.2" transform="rotate(22 598.0 534.5)" fill="#ffffff" filter="url(#b1_5)"/>
<ellipse cx="590.0" cy="552.0" rx="8.0" ry="9.0" transform="rotate(0 590.0 552.0)" fill="#ff1010" filter="url(#b3)"/>
<ellipse cx="533.5" cy="487.0" rx="4.5" ry="9.0" transform="rotate(5 533.5 487.0)" fill="#ffeaea" filter="url(#b2)"/>
<ellipse cx="548.0" cy="535.0" rx="16.0" ry="5.0" transform="rotate(5 548.0 535.0)" fill="#e80000" filter="url(#b3)"/>
<ellipse cx="467.0" cy="532.0" rx="8.0" ry="5.0" transform="rotate(0 467.0 532.0)" fill="#ff0505" filter="url(#b3)"/>
<ellipse cx="545.0" cy="490.0" rx="10.0" ry="12.0" transform="rotate(-30 545.0 490.0)" fill="#ff1414" filter="url(#b3)"/>
<ellipse cx="505.0" cy="455.0" rx="10.0" ry="5.0" transform="rotate(0 505.0 455.0)" fill="#ff4040" filter="url(#b3)"/>
</g></g>
<ellipse cx="515.0" cy="508.0" rx="13.5" ry="5.0" transform="rotate(27 515.0 508.0)" fill="#ff6464" filter="url(#b1_5)"/>
<ellipse cx="526.5" cy="440.5" rx="8.0" ry="2.6" transform="rotate(12 526.5 440.5)" fill="#ffc8c8" filter="url(#b1_5)"/>
<ellipse cx="581.0" cy="528.5" rx="6.0" ry="2.0" transform="rotate(15 581.0 528.5)" fill="#ffffff" filter="url(#b0_6)"/>
<polygon points="264.0,537.0 267.6,532.0 276.0,529.0 287.5,526.0 301.0,528.0 317.7,531.0 325.0,532.5 334.4,536.0 347.8,542.0 359.5,547.0 364.5,555.0 365.0,560.0 360.0,563.8 350.0,562.5 340.0,558.8 334.0,562.0 332.5,565.0 327.0,564.0 325.0,563.8 322.0,570.0 320.0,572.0 315.0,567.5 310.0,563.8 300.0,565.0 294.3,565.6 287.6,557.0 281.0,549.0 271.0,543.9 264.0,540.5" fill="#fff" stroke="#fff" stroke-width="7" stroke-linejoin="round" filter="url(#b2_5)"/>
<polygon points="264.0,537.0 267.6,532.0 276.0,529.0 287.5,526.0 301.0,528.0 317.7,531.0 325.0,532.5 334.4,536.0 347.8,542.0 359.5,547.0 364.5,555.0 365.0,560.0 360.0,563.8 350.0,562.5 340.0,558.8 334.0,562.0 332.5,565.0 327.0,564.0 325.0,563.8 322.0,570.0 320.0,572.0 315.0,567.5 310.0,563.8 300.0,565.0 294.3,565.6 287.6,557.0 281.0,549.0 271.0,543.9 264.0,540.5" fill="#ffb4b4" filter="url(#b2)"/>
<g filter="url(#b1)"><g clip-path="url(#cp_jam)">
<polygon points="264.0,537.0 267.6,532.0 276.0,529.0 287.5,526.0 301.0,528.0 317.7,531.0 325.0,532.5 334.4,536.0 347.8,542.0 359.5,547.0 364.5,555.0 365.0,560.0 360.0,563.8 350.0,562.5 340.0,558.8 334.0,562.0 332.5,565.0 327.0,564.0 325.0,563.8 322.0,570.0 320.0,572.0 315.0,567.5 310.0,563.8 300.0,565.0 294.3,565.6 287.6,557.0 281.0,549.0 271.0,543.9 264.0,540.5" fill="#ff3232"/>
<ellipse cx="271.0" cy="539.0" rx="7.0" ry="5.5" transform="rotate(0 271.0 539.0)" fill="#ffc0c0" filter="url(#b2_5)"/>
<ellipse cx="311.0" cy="545.0" rx="13.0" ry="8.0" transform="rotate(10 311.0 545.0)" fill="#ff0000" filter="url(#b3)"/>
<ellipse cx="348.0" cy="552.0" rx="8.0" ry="5.0" transform="rotate(20 348.0 552.0)" fill="#ff0808" filter="url(#b2_5)"/>
<ellipse cx="330.0" cy="565.0" rx="4.0" ry="3.0" transform="rotate(0 330.0 565.0)" fill="#ffffff" filter="url(#b2)"/>
</g></g>
<polygon points="789.0,531.0 795.0,528.0 805.0,528.5 816.7,528.8 833.0,530.5 850.0,532.0 860.0,533.0 863.5,535.5 865.5,539.0 863.5,547.0 858.0,553.0 850.0,557.0 840.0,558.0 833.0,559.0 824.0,558.0 816.7,560.6 808.0,558.0 800.0,557.0 793.0,558.0 789.6,553.0 790.5,545.0 788.0,538.0" fill="#fff" stroke="#fff" stroke-width="6" stroke-linejoin="round" filter="url(#b2_5)"/>
<polygon points="789.0,531.0 795.0,528.0 805.0,528.5 816.7,528.8 833.0,530.5 850.0,532.0 860.0,533.0 863.5,535.5 865.5,539.0 863.5,547.0 858.0,553.0 850.0,557.0 840.0,558.0 833.0,559.0 824.0,558.0 816.7,560.6 808.0,558.0 800.0,557.0 793.0,558.0 789.6,553.0 790.5,545.0 788.0,538.0" fill="#ffc8c8" filter="url(#b2)"/>
<g filter="url(#b1)"><g clip-path="url(#cp_pr)">
<polygon points="789.0,531.0 795.0,528.0 805.0,528.5 816.7,528.8 833.0,530.5 850.0,532.0 860.0,533.0 863.5,535.5 865.5,539.0 863.5,547.0 858.0,553.0 850.0,557.0 840.0,558.0 833.0,559.0 824.0,558.0 816.7,560.6 808.0,558.0 800.0,557.0 793.0,558.0 789.6,553.0 790.5,545.0 788.0,538.0" fill="#ff9090"/>
<ellipse cx="826.0" cy="545.0" rx="34.0" ry="10.0" transform="rotate(3 826.0 545.0)" fill="#ff3c3c" filter="url(#b3)"/>
<ellipse cx="822.0" cy="547.0" rx="24.0" ry="5.5" transform="rotate(3 822.0 547.0)" fill="#ff0a0a" filter="url(#b3)"/>
</g></g>
<ellipse cx="873.6" cy="549.0" rx="8.0" ry="3.0" transform="rotate(-8 873.6 549.0)" fill="#fff0f0" filter="url(#b1_5)"/>
<ellipse cx="906.0" cy="571.0" rx="10.0" ry="4.5" transform="rotate(-8 906.0 571.0)" fill="#ffffff" filter="url(#b2)"/>
<ellipse cx="906.0" cy="571.0" rx="7.0" ry="2.5" transform="rotate(-8 906.0 571.0)" fill="#ffe0e0" filter="url(#b1_5)"/>
<ellipse cx="897.0" cy="536.5" rx="6.0" ry="3.0" transform="rotate(15 897.0 536.5)" fill="#ffffff" filter="url(#b2)"/>
<ellipse cx="908.7" cy="534.5" rx="5.0" ry="3.0" transform="rotate(-35 908.7 534.5)" fill="#ffffff" filter="url(#b2)"/>
<ellipse cx="976.0" cy="575.8" rx="4.5" ry="4.0" transform="rotate(0 976.0 575.8)" fill="#ffffff" filter="url(#b1_5)"/>
<ellipse cx="997.5" cy="592.5" rx="9.0" ry="6.0" transform="rotate(45 997.5 592.5)" fill="#ffb4b4" filter="url(#b3)"/>
<ellipse cx="997.5" cy="592.5" rx="5.0" ry="2.5" transform="rotate(45 997.5 592.5)" fill="#ff8080" filter="url(#b1_5)"/>
<ellipse cx="1008.0" cy="604.3" rx="5.5" ry="6.0" transform="rotate(0 1008.0 604.3)" fill="#ffb4b4" filter="url(#b3)"/>
<ellipse cx="1008.0" cy="604.3" rx="2.5" ry="3.2" transform="rotate(0 1008.0 604.3)" fill="#ff9090" filter="url(#b1_2)"/>
<ellipse cx="1044.5" cy="577.0" rx="3.0" ry="4.0" transform="rotate(0 1044.5 577.0)" fill="#fff4f4" filter="url(#b1)"/>
<ellipse cx="1045.0" cy="608.7" rx="7.5" ry="7.5" transform="rotate(0 1045.0 608.7)" fill="#ffffff" filter="url(#b2)"/>
<ellipse cx="1045.0" cy="608.7" rx="5.0" ry="5.0" transform="rotate(0 1045.0 608.7)" fill="#ffe6e6" filter="url(#b1)"/>
<ellipse cx="1026.8" cy="627.0" rx="6.5" ry="9.0" transform="rotate(0 1026.8 627.0)" fill="#ffc0c0" filter="url(#b3)"/>
<ellipse cx="1026.8" cy="627.0" rx="2.5" ry="4.2" transform="rotate(0 1026.8 627.0)" fill="#ff9a9a" filter="url(#b1_2)"/>
<ellipse cx="1051.0" cy="660.5" rx="9.5" ry="15.0" transform="rotate(-8 1051.0 660.5)" fill="#ff7878" filter="url(#b3)"/>
<polygon points="1046.2,650.0 1050.0,648.8 1054.5,653.8 1056.5,662.5 1055.5,668.8 1052.0,671.8 1048.8,669.5 1046.2,663.8 1045.0,656.2" fill="#ff1e1e" filter="url(#b1_2)"/>
<ellipse cx="1064.0" cy="650.0" rx="9.0" ry="9.0" transform="rotate(0 1064.0 650.0)" fill="#ffffff" filter="url(#b2_5)"/>
<polygon points="1058.0,641.2 1062.5,640.5 1064.2,646.2 1068.0,650.5 1074.5,655.0 1066.2,656.5 1060.0,657.0 1057.5,653.8 1058.8,647.5" fill="#ffe6e6" filter="url(#b0_6)"/>
<ellipse cx="1070.0" cy="673.0" rx="5.5" ry="5.5" transform="rotate(0 1070.0 673.0)" fill="#ffffff" filter="url(#b2)"/>
<ellipse cx="1065.5" cy="702.0" rx="9.0" ry="15.0" transform="rotate(-10 1065.5 702.0)" fill="#ff8080" filter="url(#b3)"/>
<polygon points="1060.0,691.2 1065.0,690.5 1068.8,696.2 1070.5,705.0 1069.5,711.2 1066.2,713.8 1063.2,707.5 1060.5,698.8" fill="#ff3c3c" filter="url(#b1_2)"/>
<ellipse cx="1081.5" cy="745.0" rx="12.0" ry="16.0" transform="rotate(-25 1081.5 745.0)" fill="#ff9a9a" filter="url(#b3_5)"/>
<polygon points="1072.0,732.5 1077.5,733.0 1083.0,737.5 1086.2,738.8 1087.0,745.0 1090.0,751.2 1090.5,758.8 1083.8,757.0 1078.8,754.5 1078.0,751.2 1081.2,749.5 1076.2,743.8 1073.0,737.5" fill="#ff6464" filter="url(#b1_5)"/>
<ellipse cx="1078.0" cy="740.0" rx="4.5" ry="6.0" transform="rotate(-30 1078.0 740.0)" fill="#ff3c3c" filter="url(#b2)"/>
<ellipse cx="1086.0" cy="754.0" rx="4.0" ry="4.0" transform="rotate(0 1086.0 754.0)" fill="#ffc8c8" filter="url(#b2)"/>
<ellipse cx="1084.0" cy="787.0" rx="8.0" ry="13.5" transform="rotate(8 1084.0 787.0)" fill="#ff9090" filter="url(#b3)"/>
<ellipse cx="1084.0" cy="787.0" rx="4.0" ry="9.5" transform="rotate(8 1084.0 787.0)" fill="#ff4646" filter="url(#b1_2)"/>
<ellipse cx="1072.7" cy="823.0" rx="8.0" ry="11.0" transform="rotate(10 1072.7 823.0)" fill="#ff9090" filter="url(#b3)"/>
<ellipse cx="1072.7" cy="823.0" rx="3.6" ry="6.8" transform="rotate(10 1072.7 823.0)" fill="#ff4646" filter="url(#b1_2)"/>
<ellipse cx="659.0" cy="866.0" rx="3.0" ry="6.5" transform="rotate(-25 659.0 866.0)" fill="#ffe6e6" filter="url(#b0_8)"/>
<polygon points="551.0,903.0 554.0,895.0 556.7,890.0 558.0,881.7 562.0,879.0 566.7,878.0 571.0,873.0 576.7,870.0 581.0,871.5 586.7,870.0 592.0,872.0 596.7,875.0 601.7,883.0 605.0,893.0 603.5,903.0" fill="#ffbebe" filter="url(#b2_5)"/>
<ellipse cx="584.0" cy="890.0" rx="14.0" ry="15.0" transform="rotate(20 584.0 890.0)" fill="#ff8282" filter="url(#b3_5)"/>
<ellipse cx="585.0" cy="889.0" rx="9.0" ry="11.0" transform="rotate(20 585.0 889.0)" fill="#ff4646" filter="url(#b3)"/>
<polygon points="644.5,903.0 646.0,895.0 648.0,890.0 652.0,886.0 656.7,884.0 660.0,885.5 663.0,888.0 665.5,895.0 667.0,903.0" fill="#ffbebe" filter="url(#b2)"/>
<ellipse cx="656.0" cy="896.0" rx="7.0" ry="8.0" transform="rotate(0 656.0 896.0)" fill="#ffa0a0" filter="url(#b2_5)"/>
<polygon points="483.6,384.0 487.0,378.0 492.0,375.0 498.0,374.0 503.0,375.5 509.0,373.0 514.0,369.0 517.0,368.0 517.5,374.0 514.0,381.0 508.0,386.0 498.0,389.0 489.0,389.5 484.5,388.0" fill="#ffffff" filter="url(#b0_6)"/>
</g>
<g stroke="#999" stroke-width="1.8" stroke-dasharray="1.8 8.02" fill="none">
<line x1="41.85" y1="895.1" x2="1133.0" y2="895.1"/>
<line x1="28.9" y1="895.1" x2="30.7" y2="895.1"/>
<line x1="41.85" y1="838.6" x2="1133.0" y2="838.6"/>
<line x1="28.9" y1="838.6" x2="30.7" y2="838.6"/>
<line x1="41.85" y1="782.1" x2="1133.0" y2="782.1"/>
<line x1="28.9" y1="782.1" x2="30.7" y2="782.1"/>
<line x1="41.85" y1="725.6" x2="1133.0" y2="725.6"/>
<line x1="28.9" y1="725.6" x2="30.7" y2="725.6"/>
<line x1="41.85" y1="669.1" x2="1133.0" y2="669.1"/>
<line x1="28.9" y1="669.1" x2="30.7" y2="669.1"/>
<line x1="41.85" y1="612.6" x2="1133.0" y2="612.6"/>
<line x1="28.9" y1="612.6" x2="30.7" y2="612.6"/>
<line x1="41.85" y1="556.1" x2="1133.0" y2="556.1"/>
<line x1="28.9" y1="556.1" x2="30.7" y2="556.1"/>
<line x1="41.85" y1="499.6" x2="1133.0" y2="499.6"/>
<line x1="28.9" y1="499.6" x2="30.7" y2="499.6"/>
<line x1="41.85" y1="443.1" x2="1133.0" y2="443.1"/>
<line x1="28.9" y1="443.1" x2="30.7" y2="443.1"/>
<line x1="41.85" y1="386.6" x2="1133.0" y2="386.6"/>
<line x1="28.9" y1="386.6" x2="30.7" y2="386.6"/>
<line x1="41.85" y1="330.0" x2="1133.0" y2="330.0"/>
<line x1="28.9" y1="330.0" x2="30.7" y2="330.0"/>
<line x1="41.85" y1="273.5" x2="1133.0" y2="273.5"/>
<line x1="28.9" y1="273.5" x2="30.7" y2="273.5"/>
<line x1="41.85" y1="217.0" x2="1133.0" y2="217.0"/>
<line x1="28.9" y1="217.0" x2="30.7" y2="217.0"/>
<line x1="41.85" y1="160.5" x2="1133.0" y2="160.5"/>
<line x1="28.9" y1="160.5" x2="30.7" y2="160.5"/>
<line x1="41.85" y1="104.0" x2="1133.0" y2="104.0"/>
<line x1="28.9" y1="104.0" x2="30.7" y2="104.0"/>
<line x1="1129.4" y1="894.43" x2="1129.4" y2="100.0"/>
<line x1="1129.4" y1="907.3" x2="1129.4" y2="905.5"/>
<line x1="1035.2" y1="894.43" x2="1035.2" y2="100.0"/>
<line x1="1035.2" y1="907.3" x2="1035.2" y2="905.5"/>
<line x1="940.9" y1="894.43" x2="940.9" y2="100.0"/>
<line x1="940.9" y1="907.3" x2="940.9" y2="905.5"/>
<line x1="846.7" y1="894.43" x2="846.7" y2="100.0"/>
<line x1="846.7" y1="907.3" x2="846.7" y2="905.5"/>
<line x1="752.4" y1="894.43" x2="752.4" y2="100.0"/>
<line x1="752.4" y1="907.3" x2="752.4" y2="905.5"/>
<line x1="658.2" y1="894.43" x2="658.2" y2="100.0"/>
<line x1="658.2" y1="907.3" x2="658.2" y2="905.5"/>
<line x1="564.0" y1="894.43" x2="564.0" y2="100.0"/>
<line x1="564.0" y1="907.3" x2="564.0" y2="905.5"/>
<line x1="469.7" y1="894.43" x2="469.7" y2="100.0"/>
<line x1="469.7" y1="907.3" x2="469.7" y2="905.5"/>
<line x1="375.5" y1="894.43" x2="375.5" y2="100.0"/>
<line x1="375.5" y1="907.3" x2="375.5" y2="905.5"/>
<line x1="281.2" y1="894.43" x2="281.2" y2="100.0"/>
<line x1="281.2" y1="907.3" x2="281.2" y2="905.5"/>
<line x1="187.0" y1="894.43" x2="187.0" y2="100.0"/>
<line x1="187.0" y1="907.3" x2="187.0" y2="905.5"/>
<line x1="92.8" y1="894.43" x2="92.8" y2="100.0"/>
<line x1="92.8" y1="907.3" x2="92.8" y2="905.5"/>
</g>
<g clip-path="url(#mapclip)"><g fill="none" stroke="#000" stroke-width="1.05" stroke-linejoin="round" stroke-linecap="round">
<polygon points="495.2,458.5 497.5,454.3 500.4,451.0 504.5,449.6 508.8,449.0 513.4,447.9 519.0,447.0 523.7,446.8 527.5,446.0 533.8,447.0 540.0,450.0 543.3,451.9 546.0,454.4 550.4,458.5 556.7,456.5 563.0,457.5 568.0,458.5 571.0,461.7 575.4,460.6 576.0,456.6 576.5,453.0 581.7,449.0 585.5,448.6 590.0,449.0 593.7,450.5 598.0,451.0 604.6,452.0 608.1,450.3 610.8,448.0 615.2,448.2 619.0,449.0 623.0,451.1 627.5,453.0 630.9,455.1 633.8,456.5 636.5,455.5 640.2,457.6 643.0,460.7 646.3,462.5 649.4,464.0 655.9,462.6 661.0,460.7 664.3,465.9 665.0,469.4 665.6,473.6 667.2,476.3 668.8,480.0 672.7,482.7 677.7,482.5 681.7,481.4 686.3,480.5 690.8,480.0 694.7,478.8 697.3,484.0 694.7,488.5 691.2,488.3 686.9,487.9 683.5,487.9 679.2,487.2 675.9,489.8 676.6,493.7 680.5,493.6 684.3,493.7 688.2,495.6 694.7,497.6 698.7,498.7 702.4,500.0 707.6,497.6 714.0,500.0 716.9,502.1 720.6,504.7 724.1,507.3 727.0,511.0 729.8,514.4 733.5,517.6 737.4,521.5 735.2,526.0 733.5,530.5 731.0,535.7 725.0,535.0 724.0,538.3 723.0,542.0 720.5,544.8 716.0,542.0 714.9,538.5 712.8,535.7 707.6,532.5 703.7,531.5 699.9,531.2 696.1,530.7 692.0,530.6 686.7,531.8 681.7,532.5 675.3,530.6 668.8,529.3 662.3,530.0 658.9,531.6 655.9,533.0 652.0,538.3 649.2,540.1 645.5,542.8 640.5,542.9 636.5,543.5 632.6,542.2 630.6,535.6 627.5,532.5 621.0,533.5 617.0,537.7 613.0,540.8 608.8,545.0 606.7,551.0 604.9,555.4 602.5,559.6 600.0,563.6 598.0,568.0 595.6,571.5 594.0,575.0 592.0,577.0 588.0,572.0 583.8,569.0 581.7,563.8 579.6,557.5 577.5,554.5 576.5,551.0 575.4,545.0 569.0,543.0 565.3,543.0 560.8,541.9 556.9,543.0 552.5,543.0 547.7,543.3 544.0,544.0 538.0,545.0 531.7,547.0 527.9,547.3 523.0,547.0 518.9,546.5 515.0,545.0 511.0,544.3 506.7,543.0 502.1,542.1 498.0,541.9 493.9,542.1 490.0,543.0 483.8,545.0 479.6,549.0 478.5,553.0 475.4,554.4 472.0,549.0 469.4,547.0 467.0,544.0 460.8,540.8 454.6,538.8 449.4,534.6 447.3,528.3 448.7,524.6 450.4,522.0 456.7,519.0 460.3,519.1 465.0,520.0 469.3,520.8 473.0,522.0 477.1,523.1 481.7,525.0 487.4,525.4 492.0,526.0 495.2,525.8 498.5,526.3 502.5,527.0 506.2,526.9 509.0,527.7 513.0,528.0 517.7,528.5 523.0,528.0 526.9,527.0 531.7,526.0 536.2,524.9 540.0,524.0 544.5,523.5 548.0,523.0 548.0,518.0 544.0,513.8 540.7,511.6 538.0,509.6 534.3,506.2 531.7,503.0 528.8,500.4 526.5,497.0 529.6,492.0 526.5,486.7 527.5,480.4 531.7,475.0 528.9,473.0 525.4,471.0 521.7,468.7 519.0,467.0 514.6,465.6 510.8,464.8 506.4,464.7 502.5,463.8 497.3,461.7"/>
<polygon points="264.0,537.0 267.6,532.0 271.5,530.5 276.0,529.0 279.7,528.1 283.8,526.5 287.5,526.0 291.5,527.0 296.2,527.0 301.0,528.0 305.7,528.7 309.7,529.5 313.7,529.9 317.7,531.0 321.5,532.2 325.0,532.5 329.7,534.5 334.4,536.0 337.9,537.0 341.4,539.1 344.2,540.0 347.8,542.0 352.1,543.6 355.8,545.8 359.5,547.0 362.2,551.5 364.5,555.0 365.0,560.0 360.0,563.8 354.9,563.5 350.0,562.5 346.6,561.7 343.8,559.6 340.0,558.8 334.0,562.0 332.5,565.0 327.0,564.0 325.0,563.8 322.0,570.0 320.0,572.0 315.0,567.5 310.0,563.8 304.6,564.1 300.0,565.0 294.3,565.6 292.6,562.7 290.0,559.6 287.6,557.0 284.3,552.9 281.0,549.0 277.5,547.4 274.4,546.0 271.0,543.9 267.7,542.7 264.0,540.5"/>
<polygon points="789.0,531.0 795.0,528.0 800.5,528.7 805.0,528.5 808.4,528.1 813.2,529.0 816.7,528.8 821.0,529.0 825.0,529.8 829.0,529.7 833.0,530.5 837.2,530.8 841.7,531.8 846.2,531.7 850.0,532.0 854.9,532.2 860.0,533.0 863.5,535.5 865.5,539.0 864.0,542.5 863.5,547.0 860.7,549.8 858.0,553.0 853.9,555.4 850.0,557.0 845.0,557.6 840.0,558.0 836.2,558.0 833.0,559.0 828.3,558.1 824.0,558.0 820.4,559.8 816.7,560.6 812.5,559.0 808.0,558.0 804.4,557.8 800.0,557.0 796.8,557.9 793.0,558.0 789.6,553.0 790.3,549.3 790.5,545.0 789.1,542.0 788.0,538.0 789.0,534.1"/>
<polygon points="45.6,333.0 50.8,333.0 54.6,334.7 59.0,335.4 61.0,339.6 62.3,342.9 64.4,345.8 65.4,352.0 61.0,357.0 56.5,359.0 53.0,361.5 49.3,360.1 44.6,359.4 41.6,356.7 38.3,354.0 42.5,356.0 46.7,352.0 43.5,345.8 41.5,339.6 43.5,336.3"/>
<polygon points="271.4,149.6 275.3,150.4 280.9,151.2 282.5,155.2 283.6,159.5 284.0,163.1 286.0,166.0 288.0,169.4 292.0,175.0 294.3,180.5 293.5,186.8 295.1,190.8 290.4,194.7 285.6,197.9 280.9,199.5 276.9,195.5 273.0,190.0 267.4,188.4 262.7,184.5 261.9,180.5 265.8,177.3 269.8,178.1 270.6,181.3 268.2,185.2 266.0,181.0 268.0,176.0 270.0,170.0 270.2,166.7 271.5,163.0 272.0,159.8 272.5,156.0"/>
<polygon points="284.0,204.0 290.0,201.0 296.0,202.0 297.7,206.5 300.0,210.0 301.1,214.2 303.0,218.0 303.3,221.7 304.5,226.0 302.0,232.0 299.0,231.2 295.0,231.0 292.0,226.0 291.7,222.5 291.0,219.0 289.4,215.5 288.0,212.0 285.0,208.0"/>
<polygon points="339.5,136.2 341.0,129.0 343.4,129.0 345.0,133.8 351.3,138.5 359.2,141.7 364.0,147.2 369.5,153.6 370.3,161.5 368.7,169.4 368.0,178.1 364.8,174.2 360.0,171.0 366.4,169.4 367.2,163.1 368.0,156.8 362.4,148.8 357.7,142.5 349.7,139.3 343.4,136.2"/>
<polygon points="387.7,177.3 393.3,178.1 394.1,183.7 397.2,190.0 402.0,196.3 408.3,204.2 407.5,208.2 400.4,209.0 398.8,205.8 402.0,201.1 397.2,193.2 393.3,186.8 389.3,181.3"/>
<polygon points="407.0,236.0 410.0,237.0 413.0,245.0 417.0,256.0 420.0,264.0 425.0,270.0 430.0,276.0 431.0,281.0 428.0,279.0 423.0,273.0 417.0,268.0 414.0,259.0 411.0,249.0"/>
<polygon points="374.5,236.0 378.0,236.5 383.0,243.0 390.0,247.0 397.5,250.0 392.0,249.5 385.0,247.0 379.0,243.0"/>
<polygon points="453.5,282.5 458.0,283.5 463.0,289.0 467.5,290.0 467.0,293.0 460.0,292.0 457.0,297.0 453.5,296.5 456.0,291.0"/>
<polygon points="468.0,289.0 476.0,288.5 478.0,297.0 476.0,305.0 470.0,310.0 463.0,315.0 457.0,320.0 456.0,318.5 462.0,312.0 468.0,307.0 473.0,300.0 473.0,294.0"/>
<polygon points="483.6,384.0 487.0,378.0 492.0,375.0 498.0,374.0 503.0,375.5 509.0,373.0 514.0,369.0 517.0,368.0 517.5,374.0 516.1,377.9 514.0,381.0 511.0,383.2 508.0,386.0 502.5,387.7 498.0,389.0 493.5,389.5 489.0,389.5 484.5,388.0"/>
<polygon points="1046.2,650.0 1050.0,648.8 1054.5,653.8 1056.5,662.5 1055.5,668.8 1052.0,671.8 1048.8,669.5 1046.2,663.8 1045.0,656.2"/>
<polygon points="1058.0,641.2 1062.5,640.5 1064.2,646.2 1068.0,650.5 1074.5,655.0 1066.2,656.5 1060.0,657.0 1057.5,653.8 1058.8,647.5"/>
<polygon points="1060.0,691.2 1065.0,690.5 1068.8,696.2 1070.5,705.0 1069.5,711.2 1066.2,713.8 1063.2,707.5 1060.5,698.8"/>
<polygon points="1072.0,732.5 1077.5,733.0 1083.0,737.5 1086.2,738.8 1087.0,745.0 1090.0,751.2 1090.5,758.8 1083.8,757.0 1078.8,754.5 1078.0,751.2 1081.2,749.5 1076.2,743.8 1073.0,737.5"/>
<polygon points="697.0,875.0 700.0,874.0 704.0,879.0 709.0,884.0 716.0,888.0 716.0,891.0 710.0,890.0 704.0,886.0 699.0,881.0"/>
<polygon points="133.1,141.2 137.5,141.9 142.5,143.8 143.8,146.9 141.2,148.8 138.1,145.6"/>
<polygon points="249.0,299.6 256.0,298.5 263.0,297.9 266.0,302.0 270.0,304.9 275.0,306.0 278.8,309.3 280.0,313.0 282.3,314.5 286.0,312.0 289.3,312.8 290.0,317.0 292.8,319.8 295.0,324.0 298.0,326.8 299.8,332.0 294.5,332.9 299.0,333.0 302.4,334.6 304.0,338.0 306.8,339.9 309.0,344.0 312.0,346.0 314.0,350.0 317.3,351.3 321.0,354.0 324.3,353.9 327.0,358.0 331.3,360.0 335.0,364.0 338.3,367.0 336.5,368.8 332.0,365.0 327.8,363.5 324.0,360.0 320.8,358.3 318.0,356.5 315.5,357.4 313.0,353.0 310.3,350.4 308.0,346.0 305.0,344.3 303.0,341.0 300.6,339.0 298.0,336.0 296.3,335.5 292.0,336.0 289.3,334.6 290.0,331.0 288.4,328.5 285.0,326.0 284.0,323.3 283.0,320.0 281.4,318.0 279.0,315.0 277.0,315.4 274.0,312.0 271.8,311.0 269.0,308.0 266.5,307.5 263.0,304.5 259.5,304.0 256.0,302.0 252.5,303.1 249.9,301.4"/>
<polyline points="34.0,275.0 38.0,273.5 42.5,271.9 46.5,271.5 50.8,270.8 54.4,270.3 57.3,271.2 61.3,270.8 64.5,268.8 68.8,267.3 71.7,265.6 75.5,264.7 78.7,263.5 82.0,263.0 85.6,263.6 89.0,263.6 92.5,263.5 96.2,263.4 99.8,264.3 103.0,264.6 107.8,264.6 113.0,265.6 117.5,269.8 122.1,267.7 125.8,265.6 132.0,262.5 128.0,266.7 131.2,270.3 134.0,273.0 138.0,267.7 142.6,268.7 146.7,268.8 150.7,268.1 155.0,266.7 159.0,270.8 162.1,273.4 165.4,275.0 169.3,275.2 171.9,276.0 175.8,277.0 179.7,277.9 182.7,278.8 186.0,280.0 189.6,281.3 193.0,283.0 196.7,284.4 199.9,286.4 203.0,287.5 205.0,293.8 209.2,297.4 213.0,300.0 216.3,303.0 219.0,304.5 221.7,307.3 226.2,308.0 230.3,307.7 234.2,307.5 238.0,308.0 242.7,309.3 246.7,310.4 250.6,312.0 255.3,315.1 259.0,316.7 262.1,318.4 266.0,319.0 269.6,320.8 271.0,323.0 273.6,326.0 277.1,327.8 279.6,331.0 283.9,333.2 288.0,336.5 292.2,338.9 296.0,341.7 300.0,344.0 303.1,345.8 306.7,347.0 309.9,347.9 313.7,349.2 317.0,351.0 323.0,354.0 326.0,357.1 329.6,360.4 332.8,362.1 335.8,364.6 339.4,367.1 344.0,368.8 348.0,370.9 352.5,371.9 357.1,371.2 360.8,370.8 363.5,373.2 366.4,375.7 369.0,378.0 373.3,379.1 377.5,380.0 382.1,379.5 385.8,379.0 388.8,380.9 392.0,382.3 394.0,387.5 390.0,392.7 388.2,395.6 386.9,399.0 391.0,400.5 394.0,402.0 398.3,401.0 402.5,401.0 408.8,403.0 412.8,403.6 417.0,404.0 420.0,404.1 424.1,403.5 427.5,404.0 430.8,406.1 433.8,408.3 437.1,411.3 440.0,414.6 443.2,418.0 446.0,420.8 448.7,422.4 452.5,425.0 458.8,426.0 463.0,429.0 463.0,434.4 460.0,436.5 456.7,437.5 452.2,438.9 448.3,440.1 444.0,441.7 439.8,442.5 435.7,443.9 431.7,444.8 427.9,445.7 424.9,446.4 421.0,448.0 417.0,449.0 415.5,444.0 413.0,449.5 410.8,449.0 406.7,449.8 402.5,450.0 398.0,448.7 394.0,448.0 390.2,446.1 385.8,444.8 380.3,444.2 375.4,443.8 370.4,443.4 365.0,443.8 361.3,444.3 358.4,445.1 354.6,445.8 351.5,445.8 347.4,446.7 344.0,446.9 340.3,447.5 335.5,447.9 331.7,449.0 327.5,449.0 323.6,450.0 319.0,450.0 314.6,450.4 311.1,451.5 306.7,452.0 303.5,452.2 299.2,452.4 296.0,453.0 294.0,450.0 297.5,445.6 300.4,441.7 303.0,438.7 305.9,435.8 308.8,433.0 312.7,430.6 315.1,429.5 319.0,427.0 321.4,424.4 323.0,420.8 321.0,414.6 319.4,411.8 318.0,408.0 316.0,405.2 313.0,403.0 309.8,403.4 306.2,403.0 302.5,403.0 298.8,402.5 295.2,401.9 292.0,402.0 286.9,402.3 281.7,403.0 277.7,400.0 273.0,398.0 270.8,395.4 268.1,392.8 265.0,389.6 262.3,386.4 258.8,383.0 257.2,378.3 256.7,373.0 254.9,368.6 254.1,364.6 252.5,360.4 250.6,356.7 248.8,352.0 242.5,352.0 238.4,352.3 234.0,353.0 229.6,354.4 225.8,355.0 221.6,354.3 217.5,353.0 213.1,351.7 209.0,351.0 203.0,348.0 196.7,346.9 192.5,344.8 188.3,343.0 184.0,340.6 179.5,339.4 175.8,337.5 171.7,333.0 167.5,328.0 163.0,326.0 159.5,326.7 155.0,326.7 151.2,326.3 146.7,327.0 142.5,326.9 138.0,326.0 134.0,323.0 133.0,319.0 133.0,315.6 130.0,316.7 129.7,321.4 130.0,326.0 128.0,324.0 121.7,321.9 117.3,320.3 113.0,318.8 109.3,318.3 105.0,318.8 100.8,316.7 96.8,314.9 93.5,313.4 90.4,312.5 88.7,310.1 86.0,307.0 89.8,306.5 94.6,306.0 99.6,305.3 105.0,305.0 109.0,301.0 107.0,295.8 100.8,292.7 96.5,292.9 92.5,292.7 88.3,292.0 84.0,291.7 79.6,291.5 75.4,291.8 71.7,291.7 67.7,291.2 62.8,290.6 59.0,290.6 55.0,292.7 51.8,295.5 48.8,298.0 44.9,300.9 40.4,304.0 37.5,307.9 34.0,311.5"/>
<polyline points="575.4,460.6 576.5,461.7 577.0,465.9 577.5,470.0 577.4,474.0 576.5,478.0 578.5,484.6 580.6,490.8 577.5,496.0 572.0,500.0 575.4,503.0 577.5,509.6 576.5,515.8 573.0,519.0 567.0,520.0 563.0,522.0 565.0,526.0 569.0,530.4 573.0,533.5 576.5,538.8 575.4,545.0"/>
<polyline points="104.2,99.0 104.4,101.9 105.6,105.4 106.9,108.8 111.2,108.1 117.5,110.6 123.1,113.8 124.4,118.1 127.5,123.8 130.6,130.0 132.2,134.0 133.1,138.1 131.9,141.9 131.2,146.2 133.1,150.6 135.0,153.1 141.2,152.5 146.2,150.0 151.2,151.9 156.2,150.6 160.0,146.9 163.8,146.9 166.2,149.4 168.1,145.6 171.2,141.9 171.9,137.5 170.6,132.5 172.5,126.2 175.0,120.0 178.1,113.8 180.6,110.0 181.3,106.3 181.9,102.5 182.0,99.0"/>
<polyline points="551.7,902.0 552.8,898.6 554.0,895.0 556.7,890.0 557.7,885.8 558.0,881.7 562.0,879.0 566.7,878.0 571.0,873.0 576.7,870.0 581.0,871.5 586.7,870.0 592.0,872.0 596.7,875.0 599.2,879.1 601.7,883.0 602.5,886.3 604.0,889.9 605.0,893.0 603.6,897.3 603.0,902.0"/>
<polyline points="645.0,902.0 646.0,895.0 648.0,890.0 652.0,886.0 656.7,884.0 660.0,885.5 663.0,888.0 665.5,895.0 666.7,902.0"/>
<polyline points="311.0,99.0 313.0,104.0 316.0,107.0 318.5,109.5 319.5,106.0 319.5,99.0"/>
<ellipse cx="308.5" cy="158.8" rx="7.0" ry="2.6" transform="rotate(-5 308.5 158.8)"/>
<ellipse cx="447.0" cy="214.0" rx="3.0" ry="5.5" transform="rotate(10 447.0 214.0)"/>
<ellipse cx="428.8" cy="234.5" rx="4.0" ry="1.8" transform="rotate(-10 428.8 234.5)"/>
<ellipse cx="481.0" cy="268.0" rx="3.0" ry="1.5" transform="rotate(0 481.0 268.0)"/>
<ellipse cx="518.7" cy="309.5" rx="10.5" ry="3.2" transform="rotate(12 518.7 309.5)"/>
<ellipse cx="552.0" cy="340.0" rx="2.5" ry="2.0" transform="rotate(30 552.0 340.0)"/>
<ellipse cx="563.9" cy="334.5" rx="3.0" ry="2.5" transform="rotate(0 563.9 334.5)"/>
<ellipse cx="575.6" cy="340.0" rx="5.0" ry="2.5" transform="rotate(10 575.6 340.0)"/>
<ellipse cx="585.6" cy="346.0" rx="3.0" ry="1.3" transform="rotate(20 585.6 346.0)"/>
<ellipse cx="604.7" cy="358.6" rx="0.8" ry="2.0" transform="rotate(0 604.7 358.6)"/>
<ellipse cx="517.0" cy="358.0" rx="3.2" ry="2.8" transform="rotate(-40 517.0 358.0)"/>
<ellipse cx="515.0" cy="508.0" rx="12.5" ry="4.0" transform="rotate(27 515.0 508.0)"/>
<ellipse cx="526.5" cy="440.5" rx="7.5" ry="2.0" transform="rotate(12 526.5 440.5)"/>
<ellipse cx="581.0" cy="528.5" rx="7.0" ry="2.6" transform="rotate(15 581.0 528.5)"/>
<ellipse cx="587.0" cy="579.5" rx="1.2" ry="1.8" transform="rotate(0 587.0 579.5)"/>
<ellipse cx="720.6" cy="547.4" rx="4.6" ry="2.0" transform="rotate(8 720.6 547.4)"/>
<ellipse cx="757.0" cy="551.0" rx="2.0" ry="2.0" transform="rotate(0 757.0 551.0)"/>
<ellipse cx="873.6" cy="549.0" rx="7.0" ry="2.2" transform="rotate(-8 873.6 549.0)"/>
<ellipse cx="906.0" cy="571.0" rx="8.5" ry="3.0" transform="rotate(-8 906.0 571.0)"/>
<ellipse cx="879.0" cy="538.0" rx="1.8" ry="1.5" transform="rotate(0 879.0 538.0)"/>
<ellipse cx="897.0" cy="536.5" rx="5.0" ry="1.8" transform="rotate(15 897.0 536.5)"/>
<ellipse cx="908.7" cy="534.5" rx="4.0" ry="2.2" transform="rotate(-35 908.7 534.5)"/>
<ellipse cx="923.2" cy="528.8" rx="2.0" ry="1.6" transform="rotate(0 923.2 528.8)"/>
<ellipse cx="984.6" cy="543.5" rx="4.0" ry="1.5" transform="rotate(-40 984.6 543.5)"/>
<ellipse cx="984.6" cy="552.0" rx="3.0" ry="3.0" transform="rotate(0 984.6 552.0)"/>
<ellipse cx="997.5" cy="592.5" rx="5.5" ry="2.8" transform="rotate(45 997.5 592.5)"/>
<ellipse cx="1008.0" cy="604.3" rx="2.4" ry="3.2" transform="rotate(0 1008.0 604.3)"/>
<ellipse cx="1044.5" cy="577.0" rx="3.2" ry="4.0" transform="rotate(0 1044.5 577.0)"/>
<ellipse cx="1045.0" cy="608.7" rx="5.2" ry="5.0" transform="rotate(0 1045.0 608.7)"/>
<ellipse cx="1026.8" cy="627.0" rx="2.3" ry="4.2" transform="rotate(0 1026.8 627.0)"/>
<ellipse cx="1070.0" cy="673.0" rx="3.6" ry="3.6" transform="rotate(0 1070.0 673.0)"/>
<ellipse cx="1084.0" cy="787.0" rx="4.2" ry="10.0" transform="rotate(8 1084.0 787.0)"/>
<ellipse cx="1072.7" cy="823.0" rx="3.8" ry="7.0" transform="rotate(10 1072.7 823.0)"/>
<ellipse cx="1061.0" cy="868.0" rx="2.0" ry="2.0" transform="rotate(0 1061.0 868.0)"/>
<ellipse cx="659.0" cy="866.0" rx="2.6" ry="6.5" transform="rotate(-25 659.0 866.0)"/>
<ellipse cx="738.0" cy="885.0" rx="3.5" ry="8.5" transform="rotate(-15 738.0 885.0)"/>
<ellipse cx="127.0" cy="480.0" rx="7.5" ry="2.6" transform="rotate(-3 127.0 480.0)"/>
<ellipse cx="170.6" cy="145.8" rx="1.8" ry="4.8" transform="rotate(35 170.6 145.8)"/>
</g><g fill="#000">
<ellipse cx="924.4" cy="514.8" rx="3.5" ry="0.9" transform="rotate(15 924.4 514.8)"/>
<ellipse cx="1080.5" cy="650.5" rx="3.0" ry="1.0" transform="rotate(-30 1080.5 650.5)"/>
<ellipse cx="1071.7" cy="837.0" rx="1.8" ry="1.0" transform="rotate(-50 1071.7 837.0)"/>
<ellipse cx="1067.0" cy="855.0" rx="0.8" ry="1.6" transform="rotate(10 1067.0 855.0)"/>
<ellipse cx="485.8" cy="551.0" rx="3.2" ry="1.1" transform="rotate(5 485.8 551.0)"/>
<ellipse cx="182.0" cy="461.2" rx="3.0" ry="1.0" transform="rotate(-15 182.0 461.2)"/>
<ellipse cx="195.6" cy="458.6" rx="3.3" ry="1.2" transform="rotate(-25 195.6 458.6)"/>
<ellipse cx="117.0" cy="349.0" rx="3.5" ry="1.0" transform="rotate(-30 117.0 349.0)"/>
<ellipse cx="123.0" cy="818.0" rx="0.7" ry="1.6" transform="rotate(15 123.0 818.0)"/>
<ellipse cx="106.7" cy="864.0" rx="0.9" ry="3.0" transform="rotate(5 106.7 864.0)"/>
<ellipse cx="56.7" cy="760.0" rx="1.4" ry="1.4" transform="rotate(0 56.7 760.0)"/>
<ellipse cx="351.0" cy="202.5" rx="0.8" ry="2.5" transform="rotate(-35 351.0 202.5)"/>
<ellipse cx="358.8" cy="213.8" rx="0.8" ry="3.5" transform="rotate(-25 358.8 213.8)"/>
<ellipse cx="492.5" cy="295.8" rx="2.0" ry="0.8" transform="rotate(20 492.5 295.8)"/>
<ellipse cx="319.0" cy="107.0" rx="1.0" ry="1.0" transform="rotate(0 319.0 107.0)"/>
<ellipse cx="288.4" cy="118.3" rx="2.4" ry="0.8" transform="rotate(40 288.4 118.3)"/>
<ellipse cx="999.0" cy="586.0" rx="0.9" ry="0.9" transform="rotate(0 999.0 586.0)"/>
</g>
<path d="M142.3,266.4 L149.3,264.6 M159.8,262.9 L163.3,262.9 M176.4,267.3 L179.9,268.1 M171.0,273.4 L176.4,275.0 M182.0,270.0 L183.5,271.0 M189.5,276.0 L191.3,276.9 M192.0,280.4 L194.8,282.0 M230.6,292.4 L235.9,292.6 M206.0,284.5 L218.0,293.8 M286.6,312.8 L291.9,320.6" fill="none" stroke="#000" stroke-width="1.7" stroke-linecap="round"/>
<path d="M170,150 L165,155 L161.3,162.5 M178.8,120 l1.2,1.9 M176.3,136.9 l2.5,-3.8 M157.5,164.4 l-5,3.7 M150,170 l-3.1,1.5 M142.5,174.4 L133.8,177.5 M123.1,180 l-3.1,-5 M116.9,178.8 l-1.5,2.5 l-1.2,-1.5 l-1.7,2.7 M108.8,183.8 l-2.5,0.6 M103.8,185.6 l-2.5,0.9" fill="none" stroke="#000" stroke-width="1.7" stroke-linecap="round" stroke-linejoin="round"/>
<path d="M217,380 l4,3 M223,385 l5,3 M230,390 l4,2 M236,394 l4,2 M256,402 l4,1 M259,409 l5,3" fill="none" stroke="#000" stroke-width="2" stroke-linecap="round"/>
<path d="M34.5,721.5 L40,725 L34.5,729 M34.5,752 Q39,762 34.5,770" fill="none" stroke="#000" stroke-width="1.2"/>
</g>
<g clip-path="url(#mapclip)"><path d="M85.5,133.5 L62.2,114.6 M62.2,114.6 l5.0,-14.7 M142.2,134.0 L112.2,132.4 M116.5,132.7 l-2.3,-7.7 M198.9,134.5 L178.4,112.6 M181.4,115.7 l3.6,-7.1 M255.6,135.0 L226.9,143.8 M312.3,135.5 L285.6,149.1 M289.4,147.2 l-5.9,-5.5 M369.0,136.0 L350.9,160.0 M353.5,156.5 l-7.7,-2.3 M425.7,136.0 L413.5,163.4 M413.5,163.4 l-15.5,-1.1 M482.4,136.0 L476.2,165.3 M476.2,165.3 l-15.3,2.2 M539.1,136.0 L540.1,166.0 M540.1,166.0 l-14.4,5.8 M595.8,136.0 L594.8,166.0 M594.8,166.0 l-14.7,4.8 M652.5,136.0 L649.4,165.8 M649.4,165.8 l-15.0,3.7 M709.2,136.0 L710.2,166.0 M710.2,166.0 l-14.4,5.8 M765.9,136.0 L777.6,163.6 M777.6,163.6 l-11.3,10.6 M822.6,136.0 L840.7,160.0 M838.1,156.5 l-4.4,6.7 M879.3,136.0 L896.1,160.9 M893.7,157.3 l-4.7,6.5 M936.0,136.0 L961.2,152.3 M961.2,152.3 l-3.5,15.1 M992.7,136.0 L1016.7,154.1 M1013.2,151.5 l-2.3,7.7 M1049.4,136.0 L1073.0,154.5 M1069.7,151.8 l-2.5,7.6 M1106.1,136.0 L1128.4,156.1 M1125.2,153.2 l-3.0,7.4 M86.0,195.9 L62.0,177.8 M65.4,180.4 l2.3,-7.7 M142.6,196.3 L114.4,186.0 M114.4,186.0 l0.0,-15.5 M199.3,196.7 L177.0,176.6 M177.0,176.6 l5.8,-14.4 M256.0,197.1 L226.1,199.2 M230.3,198.9 l-3.3,-7.3 M312.7,197.6 L307.4,227.1 M369.3,198.0 L363.1,227.3 M364.0,223.1 l-7.9,1.1 M426.0,198.0 L422.4,227.8 M422.4,227.8 l-15.1,3.5 M482.7,198.0 L483.7,228.0 M483.7,228.0 l-14.4,5.8 M539.4,198.0 L549.6,226.2 M549.6,226.2 l-11.9,10.0 M596.0,198.0 L606.8,226.0 M606.8,226.0 l-11.7,10.2 M652.7,198.0 L661.5,226.7 M661.5,226.7 l-12.4,9.3 M709.4,198.0 L729.9,219.9 M729.9,219.9 l-7.0,13.8 M766.1,198.0 L782.4,223.2 M780.1,219.6 l-4.8,6.4 M822.7,198.0 L840.0,222.6 M840.0,222.6 l-8.9,12.7 M879.4,198.0 L908.1,206.8 M904.0,205.5 l0.4,8.0 M936.1,198.0 L961.0,214.8 M957.4,212.4 l-1.9,7.8 M992.8,198.0 L1022.5,202.2 M1018.2,201.6 l1.7,7.8 M1049.4,198.0 L1077.8,207.8 M1077.8,207.8 l0.3,15.5 M1106.1,198.0 L1134.5,207.8 M1134.5,207.8 l0.3,15.5 M86.4,258.2 L64.8,237.4 M67.9,240.4 l3.3,-7.3 M143.1,258.6 L120.1,239.3 M120.1,239.3 l5.3,-14.6 M199.7,258.9 L174.8,242.2 M174.8,242.2 l3.7,-15.0 M256.4,259.3 L261.1,288.9 M260.4,284.7 l-7.0,3.9 M313.0,259.6 L312.5,289.6 M312.6,285.3 l-7.6,2.6 M369.7,260.0 L374.9,289.5 M374.1,285.3 l-6.9,4.0 M426.3,260.0 L440.4,286.5 M438.4,282.7 l-5.4,5.9 M483.0,260.0 L498.0,286.0 M498.0,286.0 l-10.0,11.9 M539.6,260.0 L562.3,279.7 M562.3,279.7 l-5.6,14.5 M596.3,260.0 L615.6,283.0 M615.6,283.0 l-7.7,13.4 M652.9,260.0 L675.6,279.7 M675.6,279.7 l-5.6,14.5 M709.6,260.0 L733.2,278.5 M729.8,275.8 l-2.5,7.6 M766.2,260.0 L791.7,275.9 M791.7,275.9 l-3.2,15.2 M822.9,260.0 L850.3,272.2 M850.3,272.2 l-1.1,15.5 M879.5,260.0 L909.5,259.0 M905.2,259.1 l3.0,7.4 M936.2,260.0 L966.0,263.1 M966.0,263.1 l3.7,15.0 M992.8,260.0 L1022.4,254.8 M1022.4,254.8 l7.8,13.4 M1049.5,260.0 L1078.3,268.3 M1078.3,268.3 l1.1,15.5 M1106.1,260.0 L1132.9,273.6 M1132.9,273.6 l-1.9,15.4 M86.9,320.1 L96.6,291.7 M96.6,291.7 l15.5,-0.3 M143.5,320.4 L158.0,294.1 M158.0,294.1 l15.3,2.4 M200.1,320.6 L174.7,336.5 M256.7,320.9 L262.0,350.5 M261.2,346.2 l-6.9,4.0 M313.4,321.2 L339.6,335.8 M335.8,333.7 l-1.3,7.9 M370.0,321.5 L393.0,340.8 M393.0,340.8 l-5.3,14.6 M426.6,321.5 L451.8,337.8 M451.8,337.8 l-3.5,15.1 M483.3,321.5 L502.7,350.4 M502.7,350.4 l-9.1,12.5 M500.0,346.4 l-4.7,6.5 M539.9,321.5 L567.3,342.9 M567.3,342.9 l-4.8,14.7 M563.5,340.0 l-2.5,7.6 M596.5,321.5 L622.2,337.0 M622.2,337.0 l-3.0,15.2 M653.1,321.5 L681.0,332.7 M681.0,332.7 l-0.5,15.5 M709.8,321.5 L738.6,329.8 M738.6,329.8 l1.1,15.5 M766.4,321.5 L794.6,331.8 M790.6,330.3 l0.0,8.0 M823.0,321.5 L851.4,331.3 M851.4,331.3 l0.3,15.5 M879.7,321.5 L909.7,322.0 M909.7,322.0 l5.0,14.7 M936.3,321.5 L965.4,328.8 M961.2,327.7 l0.8,8.0 M992.9,321.5 L1022.8,324.1 M1018.5,323.7 l2.1,7.7 M1049.5,321.5 L1076.3,335.1 M1076.3,335.1 l-1.9,15.4 M1106.2,321.5 L1134.2,332.3 M1134.2,332.3 l-0.3,15.5 M87.3,383.4 L69.3,359.5 M71.9,362.9 l4.4,-6.7 M143.9,383.6 L141.3,353.8 M141.3,353.8 l14.0,-6.6 M200.5,383.9 L230.2,379.7 M226.0,380.3 l3.8,7.1 M257.1,384.1 L285.5,374.3 M285.5,374.3 l9.8,12.0 M313.7,384.3 L324.5,356.3 M322.9,360.3 l8.0,0.1 M370.3,384.5 L342.3,395.3 M426.9,384.5 L451.8,401.3 M448.3,398.9 l-1.9,7.8 M483.5,384.5 L506.2,404.2 M506.2,404.2 l-5.6,14.5 M540.2,384.5 L571.9,398.7 M571.9,398.7 l-1.1,15.5 M567.6,396.7 l-0.6,8.0 M596.8,384.5 L628.5,398.7 M628.5,398.7 l-1.1,15.5 M624.2,396.7 l-0.6,8.0 M653.4,384.5 L684.4,400.3 M684.4,400.3 l-1.9,15.4 M680.1,398.1 l-1.0,7.9 M710.0,384.5 L739.7,388.7 M739.7,388.7 l3.2,15.2 M766.6,384.5 L793.5,397.7 M789.7,395.8 l-0.8,8.0 M823.2,384.5 L852.0,392.8 M852.0,392.8 l1.1,15.5 M879.8,384.5 L906.5,398.1 M906.5,398.1 l-1.9,15.4 M936.4,384.5 L962.9,398.6 M959.1,396.6 l-1.1,7.9 M993.0,384.5 L1022.8,380.8 M1022.8,380.8 l7.0,13.8 M1049.6,384.5 L1079.6,383.5 M1079.6,383.5 l5.8,14.4 M1106.2,384.5 L1136.2,384.0 M1136.2,384.0 l5.6,14.5 M31.2,446.1 L57.4,431.6 M53.7,433.7 l6.0,5.2 M87.8,446.3 L105.4,422.0 M102.9,425.5 l7.7,2.2 M144.4,446.4 L155.1,418.4 M153.6,422.4 l8.0,0.1 M200.9,446.6 L211.2,418.4 M211.2,418.4 l15.5,-0.0 M257.5,446.7 L280.2,427.0 M276.9,429.9 l7.0,3.9 M314.1,446.9 L311.5,417.0 M311.9,421.3 l7.3,-3.4 M370.7,447.0 L341.2,452.7 M345.4,451.9 l-4.1,-6.9 M427.3,447.0 L456.1,438.7 M452.0,439.9 l4.7,6.5 M483.8,447.0 L513.2,440.8 M513.2,440.8 l8.2,13.1 M540.4,447.0 L569.8,453.2 M569.8,453.2 l2.2,15.3 M597.0,447.0 L624.8,467.9 M624.8,467.9 l-4.5,14.8 M621.0,465.1 l-2.3,7.7 M653.6,447.0 L683.1,465.4 M683.1,465.4 l-3.2,15.2 M679.0,462.9 l-1.7,7.8 M710.2,447.0 L738.3,457.3 M738.3,457.3 l0.0,15.5 M766.7,447.0 L795.1,456.8 M795.1,456.8 l0.3,15.5 M823.3,447.0 L853.0,451.2 M853.0,451.2 l3.2,15.2 M879.9,447.0 L909.4,452.2 M909.4,452.2 l2.7,15.3 M936.5,447.0 L966.3,443.3 M966.3,443.3 l7.0,13.8 M993.1,447.0 L1022.2,439.7 M1022.2,439.7 l8.7,12.9 M1049.6,447.0 L1078.7,454.3 M1078.7,454.3 l1.6,15.4 M1106.2,447.0 L1134.9,455.8 M1134.9,455.8 l0.8,15.5 M31.7,511.1 L59.7,500.3 M59.7,500.3 l10.2,11.7 M88.2,511.1 L109.5,489.9 M109.5,489.9 l14.0,6.6 M144.8,511.2 L166.4,490.4 M166.4,490.4 l13.9,6.8 M201.4,511.3 L221.8,489.3 M218.9,492.5 l7.4,3.1 M257.9,511.4 L286.1,501.1 M282.1,502.6 l5.1,6.1 M314.5,511.4 L341.7,524.1 M337.8,522.3 l-0.7,8.0 M371.0,511.5 L399.2,521.8 M395.2,520.3 l0.0,8.0 M427.6,511.5 L445.6,535.5 M484.1,511.5 L497.8,538.2 M495.8,534.4 l-5.5,5.9 M540.7,511.5 L564.6,529.6 M564.6,529.6 l-4.5,14.8 M597.2,511.5 L613.6,536.7 M653.8,511.5 L640.2,538.2 M710.4,511.5 L740.1,507.8 M735.9,508.4 l3.6,7.1 M766.9,511.5 L799.6,523.4 M799.6,523.4 l0.0,15.5 M795.1,521.8 l0.0,8.0 M823.5,511.5 L856.0,524.0 M856.0,524.0 l-0.3,15.5 M851.5,522.3 l-0.1,8.0 M880.0,511.5 L909.7,506.8 M909.7,506.8 l7.5,13.6 M936.6,511.5 L966.5,513.1 M966.5,513.1 l4.5,14.8 M993.1,511.5 L1022.2,504.2 M1022.2,504.2 l8.7,12.9 M1049.7,511.5 L1078.7,519.3 M1078.7,519.3 l1.4,15.4 M1106.2,511.5 L1135.8,516.7 M1135.8,516.7 l2.7,15.3 M32.2,575.5 L65.1,564.2 M65.1,564.2 l9.8,12.0 M60.5,565.7 l5.0,6.2 M88.7,575.5 L117.6,567.2 M117.6,567.2 l9.1,12.5 M145.2,575.5 L173.3,564.7 M173.3,564.7 l10.2,11.7 M201.8,575.5 L226.6,558.7 M223.1,561.1 l6.5,4.7 M258.3,575.5 L287.8,569.8 M287.8,569.8 l8.0,13.3 M314.8,575.5 L342.7,564.3 M342.7,564.3 l10.4,11.5 M371.4,575.5 L401.1,571.3 M401.1,571.3 l7.3,13.7 M427.9,575.5 L462.4,580.3 M462.4,580.3 l3.2,15.2 M457.6,579.7 l1.7,7.8 M484.4,575.5 L514.4,577.1 M514.4,577.1 l4.5,14.8 M541.0,575.5 L575.7,573.7 M575.7,573.7 l6.1,14.3 M570.9,573.9 l3.1,7.4 M597.5,575.5 L632.1,571.9 M632.1,571.9 l6.8,13.9 M627.3,572.4 l3.5,7.2 M654.0,575.5 L688.8,576.1 M688.8,576.1 l5.0,14.7 M684.0,576.0 l2.6,7.6 M710.6,575.5 L738.7,565.2 M738.7,565.2 l10.0,11.9 M767.1,575.5 L799.4,562.5 M799.4,562.5 l10.4,11.5 M794.9,564.3 l5.4,5.9 M823.6,575.5 L857.4,567.1 M857.4,567.1 l8.7,12.9 M852.7,568.2 l4.5,6.6 M880.1,575.5 L914.9,573.1 M914.9,573.1 l6.3,14.2 M910.1,573.4 l3.3,7.3 M936.7,575.5 L966.6,577.6 M966.6,577.6 l4.3,14.9 M993.2,575.5 L1023.2,575.5 M1023.2,575.5 l5.3,14.6 M1049.7,575.5 L1078.8,568.2 M1078.8,568.2 l8.7,12.9 M1106.3,575.5 L1136.3,575.0 M1136.3,575.0 l5.6,14.5 M32.7,640.0 L60.5,619.1 M60.5,619.1 l13.0,8.4 M56.6,621.9 l6.7,4.4 M89.2,640.0 L122.8,631.0 M122.8,631.0 l8.9,12.7 M118.2,632.2 l4.6,6.6 M145.7,640.0 L179.5,631.6 M179.5,631.6 l8.7,12.9 M174.8,632.7 l4.5,6.6 M202.2,640.0 L235.7,630.4 M235.7,630.4 l9.1,12.5 M231.0,631.7 l4.7,6.5 M258.7,640.0 L292.6,632.2 M292.6,632.2 l8.4,13.0 M287.9,633.3 l4.4,6.7 M315.2,640.0 L349.0,631.6 M349.0,631.6 l8.7,12.9 M344.3,632.7 l4.5,6.6 M371.7,640.0 L405.5,631.6 M405.5,631.6 l8.7,12.9 M400.8,632.7 l4.5,6.6 M428.2,640.0 L461.7,630.4 M461.7,630.4 l9.1,12.5 M457.1,631.7 l4.7,6.5 M484.7,640.0 L519.4,637.0 M519.4,637.0 l6.6,14.0 M514.6,637.4 l3.4,7.3 M541.2,640.0 L576.0,640.0 M576.0,640.0 l5.3,14.6 M571.2,640.0 l2.7,7.5 M597.7,640.0 L631.9,646.6 M631.9,646.6 l2.4,15.3 M627.2,645.7 l1.3,7.9 M654.2,640.0 L688.6,634.6 M688.6,634.6 l7.5,13.6 M683.9,635.3 l3.9,7.0 M710.8,640.0 L740.4,644.7 M740.4,644.7 l3.0,15.2 M767.3,640.0 L797.2,641.6 M797.2,641.6 l4.5,14.8 M823.8,640.0 L853.7,642.6 M853.7,642.6 l4.0,15.0 M880.3,640.0 L909.9,644.7 M909.9,644.7 l3.0,15.2 M936.8,640.0 L966.5,644.2 M966.5,644.2 l3.2,15.2 M993.3,640.0 L1027.9,643.0 M1027.9,643.0 l4.0,15.0 M1023.2,642.6 l2.1,7.7 M1049.8,640.0 L1084.4,636.4 M1084.4,636.4 l6.8,13.9 M1079.6,636.9 l3.5,7.2 M1106.3,640.0 L1141.0,637.0 M1141.0,637.0 l6.6,14.0 M1136.2,637.4 l3.4,7.3 M33.2,705.0 L63.3,687.6 M63.3,687.6 l11.9,10.0 M59.2,690.0 l6.1,5.1 M89.7,705.0 L120.4,688.7 M120.4,688.7 l11.5,10.4 M116.2,690.9 l5.9,5.4 M146.1,705.0 L178.8,693.1 M178.8,693.1 l10.0,11.9 M174.3,694.7 l10.0,11.9 M202.6,705.0 L234.4,690.8 M234.4,690.8 l10.8,11.1 M230.0,692.8 l10.8,11.1 M259.1,705.0 L293.3,698.4 M293.3,698.4 l8.0,13.3 M288.6,699.3 l8.0,13.3 M315.6,705.0 L348.1,692.5 M348.1,692.5 l10.2,11.7 M343.6,694.2 l10.2,11.7 M372.1,705.0 L404.6,692.5 M404.6,692.5 l10.2,11.7 M400.1,694.2 l10.2,11.7 M428.5,705.0 L462.6,697.8 M462.6,697.8 l8.2,13.1 M457.9,698.8 l4.2,6.8 M485.0,705.0 L519.8,704.4 M519.8,704.4 l5.6,14.5 M515.0,704.5 l2.9,7.5 M541.5,705.0 L576.0,700.2 M576.0,700.2 l7.3,13.7 M571.2,700.8 l3.8,7.1 M598.0,705.0 L632.8,703.8 M632.8,703.8 l5.8,14.4 M628.0,704.0 l3.0,7.4 M654.5,705.0 L689.3,705.0 M689.3,705.0 l5.3,14.6 M684.5,705.0 l2.7,7.5 M711.0,705.0 L745.1,711.6 M745.1,711.6 l2.4,15.3 M740.4,710.7 l1.3,7.9 M767.4,705.0 L802.2,706.8 M802.2,706.8 l4.5,14.8 M797.4,706.6 l2.3,7.7 M823.9,705.0 L858.2,711.0 M858.2,711.0 l2.7,15.3 M853.5,710.2 l1.4,7.9 M880.4,705.0 L913.7,715.2 M913.7,715.2 l0.8,15.5 M909.1,713.8 l0.4,8.0 M936.9,705.0 L966.9,705.5 M966.9,705.5 l5.0,14.7 M993.4,705.0 L1028.1,703.8 M1028.1,703.8 l5.8,14.4 M1023.3,704.0 l3.0,7.4 M1049.8,705.0 L1076.3,719.1 M1072.5,717.1 l-1.1,7.9 M1106.3,705.0 L1135.8,710.7 M1135.8,710.7 l2.4,15.3 M33.7,770.5 L64.1,753.6 M64.1,753.6 l11.7,10.2 M59.9,756.0 l6.0,5.2 M90.1,770.5 L118.0,759.3 M118.0,759.3 l10.4,11.5 M146.6,770.5 L181.1,765.7 M181.1,765.7 l7.3,13.7 M176.3,766.3 l7.3,13.7 M203.1,770.5 L228.5,746.8 M228.5,746.8 l13.8,7.0 M225.0,750.0 l7.1,3.6 M259.5,770.5 L289.9,753.6 M289.9,753.6 l11.7,10.2 M285.7,756.0 l11.7,10.2 M316.0,770.5 L347.5,755.8 M347.5,755.8 l11.0,11.0 M343.2,757.8 l11.0,11.0 M372.4,770.5 L404.7,757.5 M404.7,757.5 l10.4,11.5 M400.2,759.3 l10.4,11.5 M428.9,770.5 L463.2,765.1 M463.2,765.1 l7.5,13.6 M458.5,765.8 l7.5,13.6 M485.3,770.5 L519.7,765.1 M519.7,765.1 l7.5,13.6 M515.0,765.8 l7.5,13.6 M541.8,770.5 L576.5,768.1 M576.5,768.1 l6.3,14.2 M571.7,768.4 l6.3,14.2 M598.2,770.5 L633.0,768.1 M633.0,768.1 l6.3,14.2 M628.2,768.4 l6.3,14.2 M654.7,770.5 L689.4,772.9 M689.4,772.9 l4.3,14.9 M684.6,772.6 l2.2,7.7 M711.2,770.5 L745.6,775.3 M745.6,775.3 l3.2,15.2 M740.9,774.7 l1.7,7.8 M767.6,770.5 L802.2,774.1 M802.2,774.1 l3.7,15.0 M797.4,773.6 l1.9,7.8 M824.1,770.5 L858.7,773.5 M858.7,773.5 l4.0,15.0 M854.0,773.1 l2.1,7.7 M880.5,770.5 L914.6,777.7 M914.6,777.7 l2.2,15.3 M909.9,776.7 l1.1,7.9 M937.0,770.5 L971.2,776.5 M971.2,776.5 l2.7,15.3 M966.5,775.7 l1.4,7.9 M993.4,770.5 L1028.1,773.5 M1028.1,773.5 l4.0,15.0 M1023.3,773.1 l2.1,7.7 M1049.9,770.5 L1079.9,769.5 M1079.9,769.5 l5.8,14.4 M1106.3,770.5 L1136.3,771.5 M1136.3,771.5 l4.8,14.7 M34.2,836.0 L63.4,817.0 M63.4,817.0 l12.4,9.3 M59.4,819.7 l12.4,9.3 M90.6,836.0 L122.4,821.8 M122.4,821.8 l10.8,11.1 M118.0,823.8 l10.8,11.1 M147.1,836.0 L181.5,831.2 M181.5,831.2 l7.3,13.7 M176.8,831.8 l7.3,13.7 M203.5,836.0 L234.8,820.7 M234.8,820.7 l11.1,10.8 M230.4,822.8 l5.8,5.6 M259.9,836.0 L289.4,817.6 M289.4,817.6 l12.2,9.5 M285.4,820.1 l12.2,9.5 M316.3,836.0 L347.1,819.7 M347.1,819.7 l11.5,10.4 M342.8,821.9 l11.5,10.4 M372.8,836.0 L410.8,825.1 M410.8,825.1 l9.1,12.5 M406.2,826.4 l9.1,12.5 M401.6,827.7 l4.7,6.5 M429.2,836.0 L468.1,828.4 M468.1,828.4 l8.0,13.3 M463.4,829.4 l8.0,13.3 M458.7,830.3 l4.1,6.9 M485.6,836.0 L525.2,833.9 M525.2,833.9 l6.1,14.3 M520.4,834.2 l6.1,14.3 M515.6,834.4 l3.1,7.4 M542.1,836.0 L581.7,836.7 M581.7,836.7 l5.0,14.7 M576.9,836.6 l5.0,14.7 M572.1,836.5 l2.6,7.6 M598.5,836.0 L633.2,839.0 M633.2,839.0 l4.0,15.0 M628.4,838.6 l4.0,15.0 M654.9,836.0 L689.5,839.6 M689.5,839.6 l3.7,15.0 M684.8,839.1 l3.7,15.0 M711.4,836.0 L746.1,837.2 M746.1,837.2 l4.8,14.7 M741.3,837.0 l4.8,14.7 M767.8,836.0 L802.5,839.0 M802.5,839.0 l4.0,15.0 M797.7,838.6 l4.0,15.0 M824.2,836.0 L858.9,838.4 M858.9,838.4 l4.3,14.9 M854.1,838.1 l2.2,7.7 M880.6,836.0 L910.4,832.3 M910.4,832.3 l7.0,13.8 M937.1,836.0 L966.5,830.3 M966.5,830.3 l8.0,13.3 M993.5,836.0 L1028.1,832.4 M1028.1,832.4 l6.8,13.9 M1023.3,832.9 l3.5,7.2 M1049.9,836.0 L1084.6,839.0 M1084.6,839.0 l4.0,15.0 M1079.8,838.6 l2.1,7.7 M1106.4,836.0 L1140.6,842.0 M1140.6,842.0 l2.7,15.3 M1135.9,841.2 l1.4,7.9 M34.7,901.5 L65.1,884.6 M65.1,884.6 l11.7,10.2 M60.9,887.0 l11.7,10.2 M91.1,901.5 L125.4,895.5 M125.4,895.5 l7.8,13.4 M120.6,896.3 l7.8,13.4 M147.5,901.5 L180.6,890.7 M180.6,890.7 l9.5,12.2 M176.0,892.2 l9.5,12.2 M203.9,901.5 L235.2,886.2 M235.2,886.2 l11.1,10.8 M230.9,888.3 l11.1,10.8 M260.3,901.5 L289.8,883.1 M289.8,883.1 l12.2,9.5 M285.8,885.6 l12.2,9.5 M316.7,901.5 L346.9,884.1 M346.9,884.1 l11.9,10.0 M342.7,886.5 l11.9,10.0 M373.1,901.5 L410.1,887.3 M410.1,887.3 l10.2,11.7 M405.6,889.0 l10.2,11.7 M401.1,890.7 l5.2,6.0 M429.5,901.5 L468.3,893.3 M468.3,893.3 l8.2,13.1 M463.6,894.3 l8.2,13.1 M458.9,895.3 l4.2,6.8 M485.9,901.5 L525.4,898.0 M525.4,898.0 l6.6,14.0 M520.6,898.5 l6.6,14.0 M515.8,898.9 l3.4,7.3 M542.3,901.5 L581.9,900.1 M581.9,900.1 l5.8,14.4 M577.1,900.3 l5.8,14.4 M572.3,900.5 l3.0,7.4 M598.7,901.5 L633.5,902.7 M633.5,902.7 l4.8,14.7 M628.7,902.5 l4.8,14.7 M655.2,901.5 L689.8,904.5 M689.8,904.5 l4.0,15.0 M685.0,904.1 l4.0,15.0 M711.6,901.5 L746.3,903.3 M746.3,903.3 l4.5,14.8 M741.5,903.1 l4.5,14.8 M768.0,901.5 L802.7,903.3 M802.7,903.3 l4.5,14.8 M797.9,903.1 l4.5,14.8 M824.4,901.5 L859.1,902.7 M859.1,902.7 l4.8,14.7 M854.4,902.5 l4.8,14.7 M880.8,901.5 L915.4,898.5 M915.4,898.5 l6.6,14.0 M910.7,898.9 l3.4,7.3 M937.2,901.5 L971.6,896.7 M971.6,896.7 l7.3,13.7 M966.9,897.3 l3.8,7.1 M993.6,901.5 L1028.1,897.3 M1028.1,897.3 l7.0,13.8 M1023.4,897.8 l3.6,7.1 M1050.0,901.5 L1084.5,897.3 M1084.5,897.3 l7.0,13.8 M1079.8,897.8 l3.6,7.1 M1106.4,901.5 L1141.1,898.5 M1141.1,898.5 l6.6,14.0 M1136.3,898.9 l3.4,7.3" fill="none" stroke="#6a6a6a" stroke-width="0.95"/></g>
<rect x="916" y="877.6" width="208.5" height="20.6" fill="#fff" stroke="#9a9a9a" stroke-width="1.3"/>
<text x="931.6" y="894" font-size="14.7" fill="#1e9bff" textLength="20.4" lengthAdjust="spacingAndGlyphs">Sis</text>
<text x="954.5" y="894" font-size="17" fill="#2222ff" textLength="16" lengthAdjust="spacingAndGlyphs">π</text>
<text x="974" y="893.5" font-size="14.7" fill="#444" textLength="9" lengthAdjust="spacingAndGlyphs">–</text>
<text x="992.8" y="894" font-size="14.7" fill="#444" textLength="125.5" lengthAdjust="spacingAndGlyphs">ONAMET/REP.DOM.</text>
<g font-size="13" font-weight="bold" fill="#9c9c9c">
<text x="25.5" y="899.8" text-anchor="end" textLength="21.5" lengthAdjust="spacingAndGlyphs">12N</text>
<text x="25.5" y="843.3" text-anchor="end" textLength="21.5" lengthAdjust="spacingAndGlyphs">13N</text>
<text x="25.5" y="786.8" text-anchor="end" textLength="21.5" lengthAdjust="spacingAndGlyphs">14N</text>
<text x="25.5" y="730.3" text-anchor="end" textLength="21.5" lengthAdjust="spacingAndGlyphs">15N</text>
<text x="25.5" y="673.8" text-anchor="end" textLength="21.5" lengthAdjust="spacingAndGlyphs">16N</text>
<text x="25.5" y="617.3" text-anchor="end" textLength="21.5" lengthAdjust="spacingAndGlyphs">17N</text>
<text x="25.5" y="560.8" text-anchor="end" textLength="21.5" lengthAdjust="spacingAndGlyphs">18N</text>
<text x="25.5" y="504.3" text-anchor="end" textLength="21.5" lengthAdjust="spacingAndGlyphs">19N</text>
<text x="25.5" y="447.8" text-anchor="end" textLength="21.5" lengthAdjust="spacingAndGlyphs">20N</text>
<text x="25.5" y="391.2" text-anchor="end" textLength="21.5" lengthAdjust="spacingAndGlyphs">21N</text>
<text x="25.5" y="334.7" text-anchor="end" textLength="21.5" lengthAdjust="spacingAndGlyphs">22N</text>
<text x="25.5" y="278.2" text-anchor="end" textLength="21.5" lengthAdjust="spacingAndGlyphs">23N</text>
<text x="25.5" y="221.7" text-anchor="end" textLength="21.5" lengthAdjust="spacingAndGlyphs">24N</text>
<text x="25.5" y="165.2" text-anchor="end" textLength="21.5" lengthAdjust="spacingAndGlyphs">25N</text>
<text x="25.5" y="108.7" text-anchor="end" textLength="21.5" lengthAdjust="spacingAndGlyphs">26N</text>
<text x="1129.7" y="919" text-anchor="middle" textLength="22" lengthAdjust="spacingAndGlyphs">60W</text>
<text x="1035.2" y="919" text-anchor="middle" textLength="22" lengthAdjust="spacingAndGlyphs">62W</text>
<text x="940.9" y="919" text-anchor="middle" textLength="22" lengthAdjust="spacingAndGlyphs">64W</text>
<text x="846.7" y="919" text-anchor="middle" textLength="22" lengthAdjust="spacingAndGlyphs">66W</text>
<text x="752.4" y="919" text-anchor="middle" textLength="22" lengthAdjust="spacingAndGlyphs">68W</text>
<text x="658.2" y="919" text-anchor="middle" textLength="22" lengthAdjust="spacingAndGlyphs">70W</text>
<text x="564.0" y="919" text-anchor="middle" textLength="22" lengthAdjust="spacingAndGlyphs">72W</text>
<text x="469.7" y="919" text-anchor="middle" textLength="22" lengthAdjust="spacingAndGlyphs">74W</text>
<text x="375.5" y="919" text-anchor="middle" textLength="22" lengthAdjust="spacingAndGlyphs">76W</text>
<text x="281.2" y="919" text-anchor="middle" textLength="22" lengthAdjust="spacingAndGlyphs">78W</text>
<text x="187.0" y="919" text-anchor="middle" textLength="22" lengthAdjust="spacingAndGlyphs">80W</text>
<text x="92.8" y="919" text-anchor="middle" textLength="22" lengthAdjust="spacingAndGlyphs">82W</text>
</g>
<rect x="1144.2" y="98.2" width="18.5" height="807.3" fill="#dadada"/>
<rect x="1145.8" y="99.8" width="15.5" height="2" fill="#fff"/>
<rect x="1145.8" y="101.10" width="15.5" height="25.85" fill="#000064"/>
<rect x="1145.8" y="126.90" width="15.5" height="27.77" fill="#0000a0"/>
<rect x="1145.8" y="154.62" width="15.5" height="27.77" fill="#0000c8"/>
<rect x="1145.8" y="182.34" width="15.5" height="27.77" fill="#0000ff"/>
<rect x="1145.8" y="210.06" width="15.5" height="27.77" fill="#1e1eff"/>
<rect x="1145.8" y="237.78" width="15.5" height="27.77" fill="#4646ff"/>
<rect x="1145.8" y="265.50" width="15.5" height="27.77" fill="#5a5aff"/>
<rect x="1145.8" y="293.22" width="15.5" height="27.77" fill="#6e6eff"/>
<rect x="1145.8" y="320.94" width="15.5" height="27.77" fill="#8282ff"/>
<rect x="1145.8" y="348.66" width="15.5" height="27.77" fill="#aaaaff"/>
<rect x="1145.8" y="376.38" width="15.5" height="27.77" fill="#bebeff"/>
<rect x="1145.8" y="404.10" width="15.5" height="27.77" fill="#d2d2ff"/>
<rect x="1145.8" y="431.82" width="15.5" height="27.77" fill="#e6e6ff"/>
<rect x="1145.8" y="459.54" width="15.5" height="27.77" fill="#f0f0ff"/>
<rect x="1145.8" y="487.26" width="15.5" height="27.77" fill="#ffffff"/>
<rect x="1145.8" y="514.98" width="15.5" height="27.77" fill="#fff0f0"/>
<rect x="1145.8" y="542.70" width="15.5" height="27.77" fill="#ffe6e6"/>
<rect x="1145.8" y="570.42" width="15.5" height="27.77" fill="#ffd2d2"/>
<rect x="1145.8" y="598.14" width="15.5" height="27.77" fill="#ffbebe"/>
<rect x="1145.8" y="625.86" width="15.5" height="27.77" fill="#ffaaaa"/>
<rect x="1145.8" y="653.58" width="15.5" height="27.77" fill="#ff8282"/>
<rect x="1145.8" y="681.30" width="15.5" height="27.77" fill="#ff6e6e"/>
<rect x="1145.8" y="709.02" width="15.5" height="27.77" fill="#ff5a5a"/>
<rect x="1145.8" y="736.74" width="15.5" height="27.77" fill="#ff4646"/>
<rect x="1145.8" y="764.46" width="15.5" height="27.77" fill="#ff1e1e"/>
<rect x="1145.8" y="792.18" width="15.5" height="27.77" fill="#ff0000"/>
<rect x="1145.8" y="819.90" width="15.5" height="27.77" fill="#d20000"/>
<rect x="1145.8" y="847.62" width="15.5" height="27.77" fill="#aa0000"/>
<rect x="1145.8" y="875.34" width="15.5" height="27.77" fill="#640000"/>
<g stroke="#fff" stroke-opacity="0.5" stroke-width="1.5">
<line x1="1145.8" y1="126.90" x2="1161.3" y2="126.90"/>
<line x1="1145.8" y1="154.62" x2="1161.3" y2="154.62"/>
<line x1="1145.8" y1="182.34" x2="1161.3" y2="182.34"/>
<line x1="1145.8" y1="210.06" x2="1161.3" y2="210.06"/>
<line x1="1145.8" y1="237.78" x2="1161.3" y2="237.78"/>
<line x1="1145.8" y1="265.50" x2="1161.3" y2="265.50"/>
<line x1="1145.8" y1="293.22" x2="1161.3" y2="293.22"/>
<line x1="1145.8" y1="320.94" x2="1161.3" y2="320.94"/>
<line x1="1145.8" y1="348.66" x2="1161.3" y2="348.66"/>
<line x1="1145.8" y1="376.38" x2="1161.3" y2="376.38"/>
<line x1="1145.8" y1="404.10" x2="1161.3" y2="404.10"/>
<line x1="1145.8" y1="431.82" x2="1161.3" y2="431.82"/>
<line x1="1145.8" y1="459.54" x2="1161.3" y2="459.54"/>
<line x1="1145.8" y1="487.26" x2="1161.3" y2="487.26"/>
<line x1="1145.8" y1="514.98" x2="1161.3" y2="514.98"/>
<line x1="1145.8" y1="542.70" x2="1161.3" y2="542.70"/>
<line x1="1145.8" y1="570.42" x2="1161.3" y2="570.42"/>
<line x1="1145.8" y1="598.14" x2="1161.3" y2="598.14"/>
<line x1="1145.8" y1="625.86" x2="1161.3" y2="625.86"/>
<line x1="1145.8" y1="653.58" x2="1161.3" y2="653.58"/>
<line x1="1145.8" y1="681.30" x2="1161.3" y2="681.30"/>
<line x1="1145.8" y1="709.02" x2="1161.3" y2="709.02"/>
<line x1="1145.8" y1="736.74" x2="1161.3" y2="736.74"/>
<line x1="1145.8" y1="764.46" x2="1161.3" y2="764.46"/>
<line x1="1145.8" y1="792.18" x2="1161.3" y2="792.18"/>
<line x1="1145.8" y1="819.90" x2="1161.3" y2="819.90"/>
<line x1="1145.8" y1="847.62" x2="1161.3" y2="847.62"/>
<line x1="1145.8" y1="875.34" x2="1161.3" y2="875.34"/>
</g>
<g font-size="13.2" fill="#111" stroke="#fff" stroke-width="0.25">
<text x="1166.6" y="131.8">1050</text>
<text x="1166.6" y="159.5">1040</text>
<text x="1166.6" y="187.2">1035</text>
<text x="1166.6" y="215.0">1030</text>
<text x="1166.6" y="242.7">1028</text>
<text x="1166.6" y="270.4">1025</text>
<text x="1166.6" y="298.1">1022</text>
<text x="1166.6" y="325.8">1020</text>
<text x="1166.6" y="353.6">1019</text>
<text x="1166.6" y="381.3">1018</text>
<text x="1166.6" y="409.0">1017</text>
<text x="1166.6" y="436.7">1016</text>
<text x="1166.6" y="464.4">1015</text>
<text x="1166.6" y="492.2">1014</text>
<text x="1166.6" y="519.9">1013</text>
<text x="1166.6" y="547.6">1012</text>
<text x="1166.6" y="575.3">1010</text>
<text x="1166.6" y="603.0">1008</text>
<text x="1166.6" y="630.8">1006</text>
<text x="1166.6" y="658.5">1004</text>
<text x="1166.6" y="686.2">1002</text>
<text x="1166.6" y="713.9">1000</text>
<text x="1166.6" y="741.6">990</text>
<text x="1166.6" y="769.4">970</text>
<text x="1166.6" y="797.1">950</text>
<text x="1166.6" y="824.8">900</text>
<text x="1166.6" y="852.5">850</text>
<text x="1166.6" y="880.2">800</text>
</g>
<text transform="translate(247.0,33.0) scale(0.992,1)" font-size="30.3" fill="#111" stroke="#fff" stroke-width="0.50" textLength="120.9" lengthAdjust="spacing">Presion</text>
<text transform="translate(392.5,33.0) scale(0.950,1)" font-size="30.3" fill="#111" stroke="#fff" stroke-width="0.50" textLength="15.8" lengthAdjust="spacing">a</text>
<text transform="translate(433.8,33.0) scale(0.950,1)" font-size="30.3" fill="#111" stroke="#fff" stroke-width="0.50" textLength="72.4" lengthAdjust="spacing">nivel</text>
<text transform="translate(522.5,33.0) scale(1.089,1)" font-size="30.3" fill="#111" stroke="#fff" stroke-width="0.50" textLength="36.7" lengthAdjust="spacing">de</text>
<text transform="translate(588.0,33.0) scale(1.004,1)" font-size="30.3" fill="#111" stroke="#fff" stroke-width="0.50" textLength="156.9" lengthAdjust="spacing">superficie</text>
<text transform="translate(771.0,33.0) scale(1.044,1)" font-size="30.3" fill="#111" stroke="#fff" stroke-width="0.50" textLength="195.3" lengthAdjust="spacing">(hPa,somb.)</text>
<text transform="translate(57.5,60.5) scale(1.083,1)" font-size="17.4" fill="#2020ff" stroke="#fff" stroke-width="0.12" textLength="125.8" lengthAdjust="spacing">01–Sep–2025</text>
<text transform="translate(256.2,60.5) scale(1.053,1)" font-size="17.4" fill="#2020ff" stroke="#fff" stroke-width="0.12" textLength="43.9" lengthAdjust="spacing">0600</text>
<text transform="translate(315.0,60.5) scale(0.950,1)" font-size="17.4" fill="#2020ff" stroke="#fff" stroke-width="0.12" textLength="35.5" lengthAdjust="spacing">UTC</text>
<text transform="translate(361.0,60.5) scale(2.400,1)" font-size="17.4" fill="#2020ff" stroke="#fff" stroke-width="0.12" textLength="5.8" lengthAdjust="spacing">/</text>
<text transform="translate(385.0,60.5) scale(0.992,1)" font-size="17.4" fill="#2020ff" stroke="#fff" stroke-width="0.12" textLength="39.1" lengthAdjust="spacing">3:00</text>
<text transform="translate(438.8,60.5) scale(0.965,1)" font-size="17.4" fill="#2020ff" stroke="#fff" stroke-width="0.12" textLength="25.9" lengthAdjust="spacing">am</text>
<text transform="translate(477.5,60.5) scale(0.961,1)" font-size="17.4" fill="#2020ff" stroke="#fff" stroke-width="0.12" textLength="42.9" lengthAdjust="spacing">Hora</text>
<text transform="translate(532.0,60.5) scale(0.963,1)" font-size="17.4" fill="#2020ff" stroke="#fff" stroke-width="0.12" textLength="48.6" lengthAdjust="spacing">Local</text>
<text transform="translate(592.5,60.5) scale(2.400,1)" font-size="17.4" fill="#2020ff" stroke="#fff" stroke-width="0.12" textLength="5.2" lengthAdjust="spacing">/</text>
<text transform="translate(616.0,60.5) scale(0.950,1)" font-size="17.4" fill="#2020ff" stroke="#fff" stroke-width="0.12" textLength="35.8" lengthAdjust="spacing">SFC</text>
<text transform="translate(46.2,81.7) scale(1.081,1)" font-size="14.6" fill="#1496ff" stroke="#fff" stroke-width="0.10" textLength="82.1" lengthAdjust="spacing">Pronóstico</text>
<text transform="translate(146.0,81.7) scale(1.096,1)" font-size="14.6" fill="#1496ff" stroke="#fff" stroke-width="0.10" textLength="26.5" lengthAdjust="spacing">con</text>
<text transform="translate(186.0,81.7) scale(0.994,1)" font-size="14.6" fill="#1496ff" stroke="#fff" stroke-width="0.10" textLength="12.8" lengthAdjust="spacing">el</text>
<text transform="translate(210.0,81.7) scale(1.024,1)" font-size="14.6" fill="#1496ff" stroke="#fff" stroke-width="0.10" textLength="55.2" lengthAdjust="spacing">Modelo</text>
<text transform="translate(277.5,81.7) scale(1.091,1)" font-size="14.6" fill="#1496ff" stroke="#fff" stroke-width="0.10" textLength="91.7" lengthAdjust="spacing">Atmósferico</text>
<text transform="translate(388.8,81.7) scale(0.950,1)" font-size="14.6" fill="#1496ff" stroke="#fff" stroke-width="0.10" textLength="33.9" lengthAdjust="spacing">WRF</text>
<text transform="translate(432.5,81.7) scale(1.043,1)" font-size="14.6" fill="#1496ff" stroke="#fff" stroke-width="0.10" textLength="87.5" lengthAdjust="spacing">inicializado</text>
<text transform="translate(536.0,81.7) scale(0.950,1)" font-size="14.6" fill="#1496ff" stroke="#fff" stroke-width="0.10" textLength="6.8" lengthAdjust="spacing">a</text>
<text transform="translate(555.0,81.7) scale(1.042,1)" font-size="14.6" fill="#1496ff" stroke="#fff" stroke-width="0.10" textLength="21.6" lengthAdjust="spacing">las</text>
<text transform="translate(590.0,81.7) scale(1.042,1)" font-size="14.6" fill="#1496ff" stroke="#fff" stroke-width="0.10" textLength="175.1" lengthAdjust="spacing">0000UTC_30AGO2025</text>
<text transform="translate(785.0,81.7) scale(1.199,1)" font-size="14.6" fill="#1496ff" stroke="#fff" stroke-width="0.10" textLength="7.3" lengthAdjust="spacing">y</text>
<text transform="translate(802.5,81.7) scale(1.045,1)" font-size="14.6" fill="#1496ff" stroke="#fff" stroke-width="0.10" textLength="45.4" lengthAdjust="spacing">válido</text>
<text transform="translate(862.0,81.7) scale(1.047,1)" font-size="14.6" fill="#1496ff" stroke="#fff" stroke-width="0.10" textLength="41.6" lengthAdjust="spacing">hasta</text>
<text transform="translate(918.0,81.7) scale(1.019,1)" font-size="14.6" fill="#1496ff" stroke="#fff" stroke-width="0.10" textLength="21.6" lengthAdjust="spacing">las</text>
<text transform="translate(962.0,81.7) scale(1.065,1)" font-size="14.6" fill="#1496ff" stroke="#fff" stroke-width="0.10" textLength="171.9" lengthAdjust="spacing">0000UTC_02SEP2025</text>
</svg></body></html>
